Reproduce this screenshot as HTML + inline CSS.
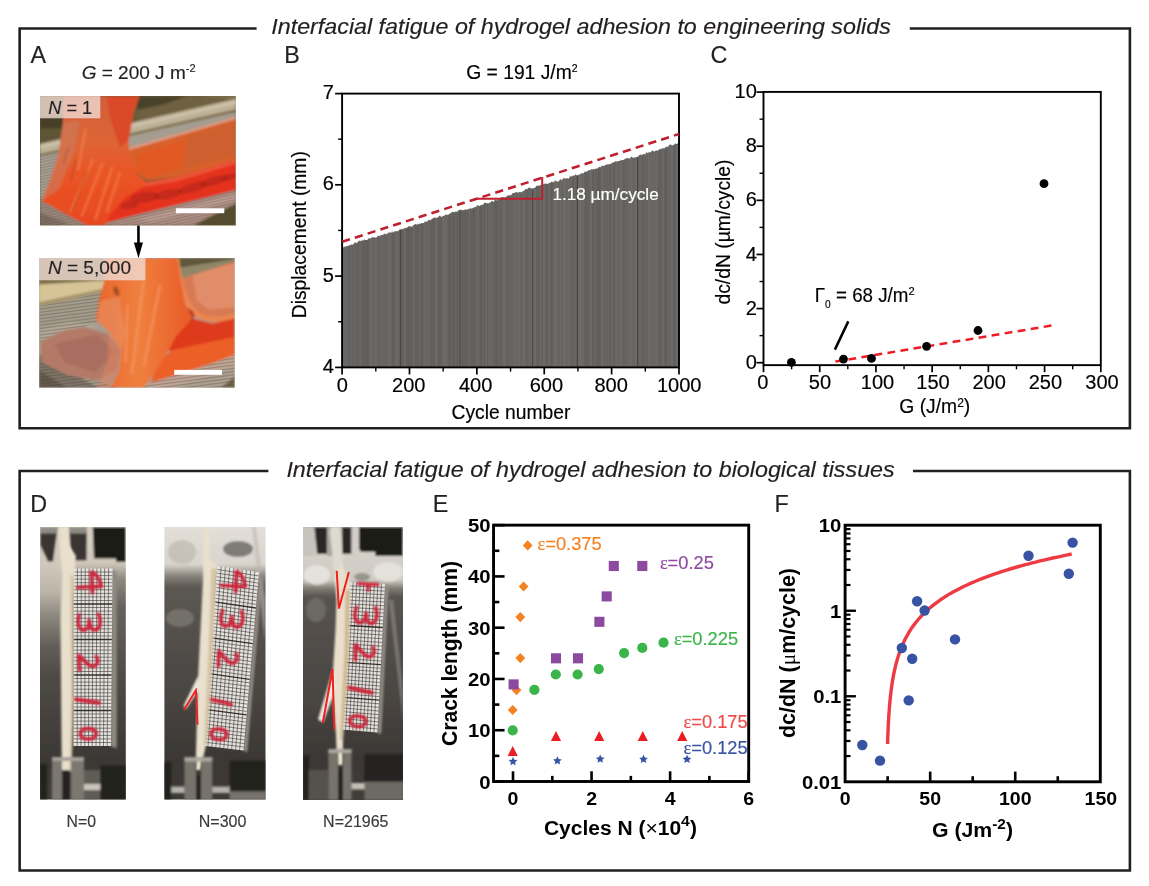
<!DOCTYPE html>
<html><head><meta charset="utf-8"><title>Interfacial fatigue of hydrogel adhesion</title>
<style>
html,body{margin:0;padding:0;background:#fff;}
body{width:1149px;height:886px;overflow:hidden;font-family:"Liberation Sans",sans-serif;}
svg{display:block;font-family:"Liberation Sans",sans-serif;will-change:transform;}
</style></head><body>
<svg width="1149" height="886" viewBox="0 0 1149 886">
<defs>
<filter id="bl5" x="-5%" y="-5%" width="110%" height="110%"><feGaussianBlur stdDeviation="6"/></filter>
<filter id="bl1" x="-5%" y="-5%" width="110%" height="110%"><feGaussianBlur stdDeviation="0.9"/></filter>
<filter id="bl2" x="-5%" y="-5%" width="110%" height="110%"><feGaussianBlur stdDeviation="2"/></filter>
<filter id="bl0" x="-5%" y="-5%" width="110%" height="110%"><feGaussianBlur stdDeviation="0.5"/></filter>
</defs>
<rect width="1149" height="886" fill="#fff"/>
<path d="M256.6 28.45 H19.65 V428.2 H1129.9 V28.45 H909.8" fill="none" stroke="#231f20" stroke-width="2.6"/>
<text x="271.3" y="33.7" font-size="22.8" fill="#231f20" stroke="#231f20" stroke-width="0.16" font-style="italic" textLength="619.5" lengthAdjust="spacingAndGlyphs" >Interfacial fatigue of hydrogel adhesion to engineering solids</text>
<path d="M268.4 471.05 H19.65 V870.5 H1129.9 V471.05 H913" fill="none" stroke="#231f20" stroke-width="2.6"/>
<text x="286.4" y="477.3" font-size="22.8" fill="#231f20" stroke="#231f20" stroke-width="0.16" font-style="italic" textLength="608.3" lengthAdjust="spacingAndGlyphs" >Interfacial fatigue of hydrogel adhesion to biological tissues</text>
<text x="30.6" y="62.8" font-size="23.3" fill="#231f20" stroke="#231f20" stroke-width="0.16" >A</text>
<text x="284.3" y="62.8" font-size="23.3" fill="#231f20" stroke="#231f20" stroke-width="0.16" >B</text>
<text x="710.6" y="62.8" font-size="23.3" fill="#231f20" stroke="#231f20" stroke-width="0.16" >C</text>
<text x="30.3" y="511.9" font-size="23.3" fill="#231f20" stroke="#231f20" stroke-width="0.16" >D</text>
<text x="432.7" y="511.9" font-size="23.3" fill="#231f20" stroke="#231f20" stroke-width="0.16" >E</text>
<text x="774.6" y="511.9" font-size="23.3" fill="#231f20" stroke="#231f20" stroke-width="0.16" >F</text>
<text x="81.7" y="78.9" font-size="19" fill="#231f20" stroke="#231f20" stroke-width="0.16" ><tspan font-style="italic">G</tspan> = 200 J m<tspan font-size="11" dy="-6.5">-2</tspan></text>
<clipPath id="cA1"><rect x="40" y="96.1" width="195.8" height="129.5"/></clipPath>
<g clip-path="url(#cA1)"><g transform="translate(30 90) scale(0.19146)" filter="url(#bl5)">
<rect x="20" y="0" width="1100" height="760" fill="#675b39"/>
<polygon points="560,32 1075,32 1075,50 560,170" fill="#6e6140" />
<polygon points="560,32 820,32 700,75 560,105" fill="#4a4229" />
<polygon points="880,32 1075,32 1075,45" fill="#8a7c56" />
<polygon points="52,140 190,140 175,260 52,285" fill="#463f25" />
<polygon points="52,200 180,200 172,262 52,285" fill="#5f5536" />
<polygon points="52,281 1075,46 1075,100 52,334" fill="#bdb197" />
<polygon points="52,292 1075,58 1075,72 52,306" fill="#cfc5ac" />
<polygon points="52,334 1075,100 1075,116 52,346" fill="#877858" />
<polygon points="52,346 1075,116 1075,150 520,314 52,600" fill="#a59d90" />
<polygon points="52,560 260,640 420,708 52,708" fill="#98857a" />
<polygon points="52,640 200,700 52,708" fill="#7d6c62" />
<polygon points="515,301 1075,140 1075,368 770,455 610,472 545,425 512,365" fill="#d9602c" />
<polygon points="515,301 1075,140 1075,152 518,314" fill="#dba08a" />
<polygon points="560,340 820,262 800,400 620,460 548,420" fill="#e6561f" opacity="0.7"/>
<polygon points="820,240 1075,165 1075,340 800,410" fill="#c8622e" opacity="0.75"/>
<polygon points="420,610 540,492 770,455 1075,365 1075,522 560,652 395,695" fill="#e5321c" />
<polygon points="540,492 770,455 1075,365 1075,385 772,476 560,512" fill="#ee5a40" opacity="0.8"/>
<ellipse cx="600" cy="560" rx="75" ry="28" fill="#9b2417" opacity="0.42" transform="rotate(-5 600 560)"/>
<ellipse cx="720" cy="545" rx="75" ry="24" fill="#9b2417" opacity="0.42" transform="rotate(-12 720 545)"/>
<ellipse cx="850" cy="510" rx="80" ry="24" fill="#9b2417" opacity="0.42" transform="rotate(-17 850 510)"/>
<ellipse cx="960" cy="475" rx="75" ry="22" fill="#9b2417" opacity="0.42" transform="rotate(-17 960 475)"/>
<ellipse cx="1040" cy="455" rx="45" ry="18" fill="#9b2417" opacity="0.42" transform="rotate(-17 1040 455)"/>
<ellipse cx="520" cy="600" rx="50" ry="22" fill="#9b2417" opacity="0.42" transform="rotate(-10 520 600)"/>
<polygon points="395,708 395,695 560,652 1075,522 1075,610 900,708" fill="#aa8c82" />
<polygon points="560,672 1075,545 1075,572 640,690" fill="#bfa398" opacity="0.7"/>
<polygon points="850,708 1075,593 1075,708" fill="#544b2e" />
<linearGradient id="gA1s" x1="0" y1="0" x2="0" y2="1"><stop offset="0" stop-color="#d2603a"/><stop offset="0.35" stop-color="#df6436"/><stop offset="0.6" stop-color="#ea5526"/><stop offset="1" stop-color="#e8471f"/></linearGradient>
<polygon points="178,32 572,32 540,120 516,260 520,360 555,435 620,490 500,560 420,650 390,708 300,708 190,650 62,580 105,470 150,330 172,170" fill="url(#gA1s)" />
<polygon points="172,170 260,160 230,330 150,520 62,580 105,470 150,330" fill="#c98062" opacity="0.55"/>
<line x1="330" y1="360" x2="210" y2="640" stroke="#f5854a" stroke-width="14" opacity="0.55"/>
<line x1="380" y1="380" x2="270" y2="660" stroke="#f5854a" stroke-width="14" opacity="0.55"/>
<line x1="430" y1="400" x2="340" y2="680" stroke="#f5854a" stroke-width="14" opacity="0.55"/>
<line x1="290" y1="200" x2="250" y2="420" stroke="#f5854a" stroke-width="14" opacity="0.55"/>
<line x1="470" y1="430" x2="400" y2="640" stroke="#f5854a" stroke-width="14" opacity="0.55"/>
<line x1="240" y1="360" x2="215" y2="470" stroke="#8c3a22" stroke-width="7" opacity="0.45"/>
<line x1="200" y1="300" x2="175" y2="380" stroke="#8c3a22" stroke-width="7" opacity="0.45"/>
<line x1="300" y1="420" x2="220" y2="640" stroke="#8c3a22" stroke-width="7" opacity="0.45"/>
<polygon points="400,32 572,32 540,120 516,260 470,300 420,150" fill="#dc3f24" opacity="0.7"/>
</g>
<g transform="translate(30 90) scale(0.19146)" filter="url(#bl2)">
<clipPath id="mA1"><polygon points="52,346 150,325 105,470 62,580 190,650 300,708 52,708"/><polygon points="395,708 395,695 560,652 1075,522 1075,593 850,708"/></clipPath>
<g clip-path="url(#mA1)" stroke="#4a4438" stroke-width="6" opacity="0.2">
<line x1="0" y1="300" x2="1100" y2="58"/>
<line x1="0" y1="315" x2="1100" y2="73"/>
<line x1="0" y1="330" x2="1100" y2="88"/>
<line x1="0" y1="345" x2="1100" y2="103"/>
<line x1="0" y1="360" x2="1100" y2="118"/>
<line x1="0" y1="375" x2="1100" y2="133"/>
<line x1="0" y1="390" x2="1100" y2="148"/>
<line x1="0" y1="405" x2="1100" y2="163"/>
<line x1="0" y1="420" x2="1100" y2="178"/>
<line x1="0" y1="435" x2="1100" y2="193"/>
<line x1="0" y1="450" x2="1100" y2="208"/>
<line x1="0" y1="465" x2="1100" y2="223"/>
<line x1="0" y1="480" x2="1100" y2="238"/>
<line x1="0" y1="495" x2="1100" y2="253"/>
<line x1="0" y1="510" x2="1100" y2="268"/>
<line x1="0" y1="525" x2="1100" y2="283"/>
<line x1="0" y1="540" x2="1100" y2="298"/>
<line x1="0" y1="555" x2="1100" y2="313"/>
<line x1="0" y1="570" x2="1100" y2="328"/>
<line x1="0" y1="585" x2="1100" y2="343"/>
<line x1="0" y1="600" x2="1100" y2="358"/>
<line x1="0" y1="615" x2="1100" y2="373"/>
<line x1="0" y1="630" x2="1100" y2="388"/>
<line x1="0" y1="645" x2="1100" y2="403"/>
<line x1="0" y1="660" x2="1100" y2="418"/>
<line x1="0" y1="675" x2="1100" y2="433"/>
<line x1="0" y1="690" x2="1100" y2="448"/>
<line x1="0" y1="705" x2="1100" y2="463"/>
<line x1="0" y1="720" x2="1100" y2="478"/>
<line x1="0" y1="735" x2="1100" y2="493"/>
<line x1="0" y1="750" x2="1100" y2="508"/>
<line x1="0" y1="765" x2="1100" y2="523"/>
<line x1="0" y1="780" x2="1100" y2="538"/>
<line x1="0" y1="795" x2="1100" y2="553"/>
<line x1="0" y1="810" x2="1100" y2="568"/>
<line x1="0" y1="825" x2="1100" y2="583"/>
<line x1="0" y1="840" x2="1100" y2="598"/>
<line x1="0" y1="855" x2="1100" y2="613"/>
<line x1="0" y1="870" x2="1100" y2="628"/>
<line x1="0" y1="885" x2="1100" y2="643"/>
<line x1="0" y1="900" x2="1100" y2="658"/>
<line x1="0" y1="915" x2="1100" y2="673"/>
<line x1="0" y1="930" x2="1100" y2="688"/>
<line x1="0" y1="945" x2="1100" y2="703"/>
<line x1="0" y1="960" x2="1100" y2="718"/>
<line x1="0" y1="975" x2="1100" y2="733"/>
<line x1="0" y1="990" x2="1100" y2="748"/>
</g>
</g></g>
<clipPath id="cA2"><rect x="39.1" y="258" width="195.7" height="129.8"/></clipPath>
<g clip-path="url(#cA2)"><g transform="translate(30 220) scale(0.20313)" filter="url(#bl5)">
<rect x="20" y="160" width="1020" height="700" fill="#a59e8f"/>
<polygon points="45,187 420,187 400,300 45,335" fill="#7d7048" />
<polygon points="45,318 380,296 362,338 45,405" fill="#d6c497" />
<polygon points="45,405 362,338 355,358 45,425" fill="#a8946a" />
<polygon points="45,425 355,358 340,520 45,600" fill="#a39c8c" />
<polygon points="45,540 200,500 340,520 45,620" fill="#b0a798" />
<polygon points="45,660 200,750 340,826 45,826" fill="#7d7266" />
<polygon points="45,740 180,826 45,826" fill="#62584c" />
<polygon points="50,600 160,545 265,525 380,560 445,640 425,740 330,792 180,762 60,702" fill="#b47a67" />
<polygon points="120,610 330,565 420,650 320,750 170,700" fill="#a66c5c" opacity="0.8"/>
<polygon points="715,187 1008,187 1008,490 900,505 805,472 762,400 742,300" fill="#d87a52" />
<polygon points="800,260 1008,215 1008,430 880,440 820,395" fill="#e4906e" opacity="0.85"/>
<polygon points="722,187 1008,187 1008,204 735,292" fill="#8f8768" />
<polygon points="722,187 1008,187 1008,192 730,235" fill="#5e563a" />
<path d="M722 187 C735 330 770 430 830 470 C900 500 960 490 1008 470" fill="none" stroke="#ee8650" stroke-width="26" opacity="0.9"/>
<polygon points="630,425 800,485 900,510 1008,485 1008,600 850,645 700,650 600,600 600,470" fill="#de3a1e" />
<ellipse cx="730" cy="470" rx="80" ry="45" fill="#b82a16" opacity="0.75"/>
<polygon points="630,700 700,640 1008,575 1008,665 900,705 590,810" fill="#ec5e28" />
<polygon points="550,826 600,800 900,705 1008,665 1008,826" fill="#c0a595" />
<polygon points="700,826 1008,720 1008,826" fill="#ada091" />
<polygon points="940,826 1008,770 1008,826" fill="#6e6444" />
<linearGradient id="gA2s" x1="0" y1="0" x2="1" y2="0"><stop offset="0" stop-color="#e8652c"/><stop offset="0.45" stop-color="#f0803f"/><stop offset="1" stop-color="#e85a26"/></linearGradient>
<polygon points="372,187 722,187 742,300 762,410 800,485 720,570 650,700 560,826 400,826 440,740 450,640 390,550 322,490 337,400 366,300" fill="url(#gA2s)" />
<polygon points="337,400 440,380 470,560 450,640 390,550 322,490" fill="#e8956a" opacity="0.55"/>
<polygon points="390,550 450,640 440,740 400,826 330,826 380,700" fill="#d88060" opacity="0.6"/>
<line x1="560" y1="300" x2="500" y2="760" stroke="#f6a070" stroke-width="14" opacity="0.5"/>
<line x1="640" y1="320" x2="560" y2="720" stroke="#f6a070" stroke-width="14" opacity="0.5"/>
<line x1="480" y1="420" x2="470" y2="700" stroke="#f6a070" stroke-width="14" opacity="0.5"/>
<ellipse cx="425" cy="350" rx="14" ry="26" fill="#7a3a20" opacity="0.6" transform="rotate(-20 425 350)"/>
</g>
<g transform="translate(30 220) scale(0.20313)" filter="url(#bl2)">
<clipPath id="mA2"><polygon points="45,425 355,358 330,500 265,525 160,545 50,600 45,600"/><polygon points="45,700 60,702 180,762 330,792 427,826 45,826"/><polygon points="550,826 600,800 900,705 1008,665 1008,826"/></clipPath>
<g clip-path="url(#mA2)" stroke="#4a4438" stroke-width="6" opacity="0.3">
<line x1="0" y1="300" x2="1100" y2="157"/>
<line x1="0" y1="316" x2="1100" y2="173"/>
<line x1="0" y1="332" x2="1100" y2="189"/>
<line x1="0" y1="348" x2="1100" y2="205"/>
<line x1="0" y1="364" x2="1100" y2="221"/>
<line x1="0" y1="380" x2="1100" y2="237"/>
<line x1="0" y1="396" x2="1100" y2="253"/>
<line x1="0" y1="412" x2="1100" y2="269"/>
<line x1="0" y1="428" x2="1100" y2="285"/>
<line x1="0" y1="444" x2="1100" y2="301"/>
<line x1="0" y1="460" x2="1100" y2="317"/>
<line x1="0" y1="476" x2="1100" y2="333"/>
<line x1="0" y1="492" x2="1100" y2="349"/>
<line x1="0" y1="508" x2="1100" y2="365"/>
<line x1="0" y1="524" x2="1100" y2="381"/>
<line x1="0" y1="540" x2="1100" y2="397"/>
<line x1="0" y1="556" x2="1100" y2="413"/>
<line x1="0" y1="572" x2="1100" y2="429"/>
<line x1="0" y1="588" x2="1100" y2="445"/>
<line x1="0" y1="604" x2="1100" y2="461"/>
<line x1="0" y1="620" x2="1100" y2="477"/>
<line x1="0" y1="636" x2="1100" y2="493"/>
<line x1="0" y1="652" x2="1100" y2="509"/>
<line x1="0" y1="668" x2="1100" y2="525"/>
<line x1="0" y1="684" x2="1100" y2="541"/>
<line x1="0" y1="700" x2="1100" y2="557"/>
<line x1="0" y1="716" x2="1100" y2="573"/>
<line x1="0" y1="732" x2="1100" y2="589"/>
<line x1="0" y1="748" x2="1100" y2="605"/>
<line x1="0" y1="764" x2="1100" y2="621"/>
<line x1="0" y1="780" x2="1100" y2="637"/>
<line x1="0" y1="796" x2="1100" y2="653"/>
<line x1="0" y1="812" x2="1100" y2="669"/>
<line x1="0" y1="828" x2="1100" y2="685"/>
<line x1="0" y1="844" x2="1100" y2="701"/>
<line x1="0" y1="860" x2="1100" y2="717"/>
<line x1="0" y1="876" x2="1100" y2="733"/>
<line x1="0" y1="892" x2="1100" y2="749"/>
<line x1="0" y1="908" x2="1100" y2="765"/>
<line x1="0" y1="924" x2="1100" y2="781"/>
<line x1="0" y1="940" x2="1100" y2="797"/>
<line x1="0" y1="956" x2="1100" y2="813"/>
<line x1="0" y1="972" x2="1100" y2="829"/>
<line x1="0" y1="988" x2="1100" y2="845"/>
</g>
</g></g>
<rect x="40" y="96.1" width="60.3" height="22.2" fill="#f0dcd6" opacity="0.78"/>
<text x="48.2" y="113.9" font-size="19" fill="#231f20" stroke="#231f20" stroke-width="0.16" textLength="44" lengthAdjust="spacingAndGlyphs" ><tspan font-style="italic">N</tspan> = 1</text>
<rect x="39.1" y="258" width="106.3" height="22.3" fill="#f0dcd6" opacity="0.78"/>
<text x="47.9" y="274.4" font-size="19" fill="#231f20" stroke="#231f20" stroke-width="0.16" textLength="83.1" lengthAdjust="spacingAndGlyphs" ><tspan font-style="italic">N</tspan> = 5,000</text>
<rect x="175.9" y="208.3" width="48.4" height="4.9" fill="#fff" />
<rect x="174.2" y="369.9" width="47.8" height="4.9" fill="#fff" />
<line x1="138.45" y1="225.6" x2="138.45" y2="246" stroke="#000" stroke-width="2.6" />
<path d="M133.9 242.6 L143 242.6 L138.45 258.2 Z" fill="#000"/>
<path d="M342.1 367.4 L342.1 247.7 L343.1 247.8 L344.1 246.3 L345.1 247.2 L346.1 245.9 L347.1 245.9 L348.1 246.2 L349.1 244.9 L350.1 245.6 L351.1 244.3 L352.1 244.8 L353.1 244.4 L354.1 243.3 L355.1 242.1 L356.1 243.3 L357.1 242.8 L358.1 241.6 L359.1 240.6 L360.1 241.0 L361.1 241.1 L362.1 239.5 L363.1 241.3 L364.1 239.2 L365.1 240.1 L366.1 240.1 L367.1 239.9 L368.1 239.2 L369.1 237.8 L370.1 238.9 L371.1 237.7 L372.1 237.3 L373.1 237.6 L374.1 237.0 L375.1 237.8 L376.1 237.5 L377.1 236.9 L378.1 235.6 L379.1 235.9 L380.1 235.8 L381.1 235.0 L382.1 235.0 L383.1 235.1 L384.1 233.7 L385.1 233.7 L386.1 234.4 L387.1 233.4 L388.1 233.2 L389.1 232.2 L390.1 232.2 L391.1 232.9 L392.1 231.1 L393.1 232.7 L394.1 231.8 L395.1 230.8 L396.1 231.8 L397.1 230.8 L398.1 231.5 L399.1 229.8 L400.1 229.3 L401.1 229.4 L402.1 228.5 L403.1 229.4 L404.1 228.2 L405.1 228.1 L406.1 227.8 L407.1 227.8 L408.1 226.6 L409.1 226.1 L410.1 226.8 L411.1 226.0 L412.1 227.0 L413.1 225.3 L414.1 225.1 L415.1 224.0 L416.1 224.0 L417.1 224.8 L418.1 224.2 L419.1 223.3 L420.1 224.3 L421.1 223.0 L422.1 223.3 L423.1 223.1 L424.1 222.9 L425.1 221.0 L426.1 222.0 L427.1 221.4 L428.1 220.7 L429.1 219.3 L430.1 220.7 L431.1 219.6 L432.1 219.0 L433.1 217.9 L434.1 217.7 L435.1 217.3 L436.1 218.2 L437.1 217.6 L438.1 217.4 L439.1 215.9 L440.1 215.4 L441.1 216.9 L442.1 216.5 L443.1 216.1 L444.1 215.7 L445.1 214.9 L446.1 214.3 L447.1 214.8 L448.1 215.0 L449.1 213.8 L450.1 213.6 L451.1 212.9 L452.1 211.8 L453.1 212.1 L454.1 212.2 L455.1 211.7 L456.1 211.3 L457.1 212.3 L458.1 210.2 L459.1 210.2 L460.1 209.7 L461.1 209.6 L462.1 210.2 L463.1 210.0 L464.1 210.3 L465.1 208.9 L466.1 209.9 L467.1 209.6 L468.1 209.0 L469.1 208.9 L470.1 208.2 L471.1 208.6 L472.1 208.4 L473.1 207.8 L474.1 207.6 L475.1 206.8 L476.1 207.2 L477.1 205.1 L478.1 205.4 L479.1 206.1 L480.1 205.6 L481.1 205.1 L482.1 204.7 L483.1 205.0 L484.1 203.1 L485.1 202.4 L486.1 203.3 L487.1 202.9 L488.1 203.5 L489.1 203.1 L490.1 202.3 L491.1 202.1 L492.1 200.6 L493.1 201.7 L494.1 201.7 L495.1 199.3 L496.1 199.9 L497.1 200.4 L498.1 199.1 L499.1 199.9 L500.1 198.5 L501.1 197.2 L502.1 197.1 L503.1 197.1 L504.1 197.7 L505.1 197.1 L506.1 197.2 L507.1 195.5 L508.1 195.7 L509.1 194.8 L510.1 195.4 L511.0 195.3 L512.0 193.7 L513.0 192.9 L514.0 192.9 L515.0 192.6 L516.0 192.3 L517.0 192.1 L518.0 192.9 L519.0 191.9 L520.0 191.9 L521.0 192.3 L522.0 192.0 L523.0 191.1 L524.0 190.9 L525.0 189.6 L526.0 188.7 L527.0 189.5 L528.0 188.1 L529.0 187.7 L530.0 187.5 L531.0 188.5 L532.0 188.5 L533.0 188.2 L534.0 188.0 L535.0 187.7 L536.0 186.5 L537.0 185.6 L538.0 185.5 L539.0 186.0 L540.0 185.3 L541.0 184.7 L542.0 186.0 L543.0 184.5 L544.0 183.7 L545.0 183.7 L546.0 183.5 L547.0 183.8 L548.0 184.2 L549.0 182.6 L550.0 183.3 L551.0 182.0 L552.0 181.4 L553.0 182.4 L554.0 182.1 L555.0 180.6 L556.0 180.8 L557.0 181.8 L558.0 181.6 L559.0 181.2 L560.0 179.3 L561.0 179.2 L562.0 180.4 L563.0 178.6 L564.0 178.0 L565.0 178.4 L566.0 178.7 L567.0 178.0 L568.0 178.6 L569.0 178.5 L570.0 176.1 L571.0 176.5 L572.0 176.4 L573.0 175.2 L574.0 176.0 L575.0 174.7 L576.0 174.4 L577.0 175.5 L578.0 175.0 L579.0 174.6 L580.0 174.4 L581.0 173.3 L582.0 173.6 L583.0 172.9 L584.0 173.2 L585.0 171.1 L586.0 172.0 L587.0 171.4 L588.0 170.8 L589.0 169.8 L590.0 170.5 L591.0 169.0 L592.0 169.6 L593.0 169.2 L594.0 168.8 L595.0 169.6 L596.0 168.3 L597.0 168.6 L598.0 168.6 L599.0 166.5 L600.0 167.6 L601.0 166.6 L602.0 165.7 L603.0 165.7 L604.0 165.9 L605.0 165.2 L606.0 164.8 L607.0 164.0 L608.0 165.1 L609.0 163.8 L610.0 164.2 L611.0 163.9 L612.0 162.5 L613.0 162.8 L614.0 162.3 L615.0 161.6 L616.0 161.0 L617.0 161.8 L618.0 161.1 L619.0 161.1 L620.0 160.8 L621.0 160.1 L622.0 160.3 L623.0 159.9 L624.0 159.8 L625.0 158.5 L626.0 158.7 L627.0 158.1 L628.0 157.7 L629.0 158.9 L630.0 158.0 L631.0 156.9 L632.0 156.8 L633.0 158.1 L634.0 157.8 L635.0 156.9 L636.0 157.4 L637.0 156.8 L638.0 156.8 L639.0 155.3 L640.0 154.7 L641.0 154.2 L642.0 155.5 L643.0 154.0 L644.0 153.8 L645.0 154.7 L646.0 152.7 L647.0 152.2 L648.0 153.6 L649.0 151.7 L650.0 152.6 L651.0 152.1 L652.0 150.6 L653.0 150.7 L654.0 151.8 L655.0 150.9 L656.0 150.4 L657.0 150.4 L658.0 150.4 L659.0 149.8 L660.0 148.5 L661.0 149.7 L662.0 148.2 L663.0 148.1 L664.0 148.7 L665.0 147.7 L666.0 146.7 L667.0 146.6 L668.0 147.2 L669.0 144.8 L670.0 144.9 L671.0 144.2 L672.0 145.7 L673.0 145.0 L674.0 145.1 L675.0 143.2 L676.0 143.9 L677.0 143.9 L678.0 142.9 L679.0 141.5 L679.0 367.4 Z" fill="#676563"/>
<line x1="343.1" y1="248.8" x2="343.1" y2="367.4" stroke="#777572" stroke-width="0.6"/>
<line x1="346.1" y1="246.9" x2="346.1" y2="367.4" stroke="#777572" stroke-width="0.6"/>
<line x1="349.1" y1="245.9" x2="349.1" y2="367.4" stroke="#5a5856" stroke-width="0.6"/>
<line x1="353.1" y1="245.4" x2="353.1" y2="367.4" stroke="#5a5856" stroke-width="0.6"/>
<line x1="354.1" y1="244.3" x2="354.1" y2="367.4" stroke="#777572" stroke-width="0.6"/>
<line x1="355.1" y1="243.1" x2="355.1" y2="367.4" stroke="#5a5856" stroke-width="0.6"/>
<line x1="358.1" y1="242.6" x2="358.1" y2="367.4" stroke="#5a5856" stroke-width="0.6"/>
<line x1="363.1" y1="242.3" x2="363.1" y2="367.4" stroke="#5a5856" stroke-width="0.6"/>
<line x1="364.1" y1="240.2" x2="364.1" y2="367.4" stroke="#5a5856" stroke-width="0.6"/>
<line x1="366.1" y1="241.1" x2="366.1" y2="367.4" stroke="#5a5856" stroke-width="0.6"/>
<line x1="367.1" y1="240.9" x2="367.1" y2="367.4" stroke="#5a5856" stroke-width="0.6"/>
<line x1="368.1" y1="240.2" x2="368.1" y2="367.4" stroke="#5a5856" stroke-width="0.6"/>
<line x1="369.1" y1="238.8" x2="369.1" y2="367.4" stroke="#5a5856" stroke-width="0.6"/>
<line x1="370.1" y1="239.9" x2="370.1" y2="367.4" stroke="#777572" stroke-width="0.6"/>
<line x1="371.1" y1="238.7" x2="371.1" y2="367.4" stroke="#777572" stroke-width="0.6"/>
<line x1="375.1" y1="238.8" x2="375.1" y2="367.4" stroke="#777572" stroke-width="0.6"/>
<line x1="377.1" y1="237.9" x2="377.1" y2="367.4" stroke="#777572" stroke-width="0.6"/>
<line x1="378.1" y1="236.6" x2="378.1" y2="367.4" stroke="#5a5856" stroke-width="0.6"/>
<line x1="383.1" y1="236.1" x2="383.1" y2="367.4" stroke="#777572" stroke-width="0.6"/>
<line x1="384.1" y1="234.7" x2="384.1" y2="367.4" stroke="#5a5856" stroke-width="0.6"/>
<line x1="385.1" y1="234.7" x2="385.1" y2="367.4" stroke="#777572" stroke-width="0.6"/>
<line x1="386.1" y1="235.4" x2="386.1" y2="367.4" stroke="#5a5856" stroke-width="0.6"/>
<line x1="388.1" y1="234.2" x2="388.1" y2="367.4" stroke="#777572" stroke-width="0.6"/>
<line x1="390.1" y1="233.2" x2="390.1" y2="367.4" stroke="#777572" stroke-width="0.6"/>
<line x1="393.1" y1="233.7" x2="393.1" y2="367.4" stroke="#5a5856" stroke-width="0.6"/>
<line x1="394.1" y1="232.8" x2="394.1" y2="367.4" stroke="#5a5856" stroke-width="0.6"/>
<line x1="396.1" y1="232.8" x2="396.1" y2="367.4" stroke="#777572" stroke-width="0.6"/>
<line x1="398.1" y1="232.5" x2="398.1" y2="367.4" stroke="#777572" stroke-width="0.6"/>
<line x1="399.1" y1="230.8" x2="399.1" y2="367.4" stroke="#5a5856" stroke-width="0.6"/>
<line x1="402.1" y1="229.5" x2="402.1" y2="367.4" stroke="#5a5856" stroke-width="0.6"/>
<line x1="403.1" y1="230.4" x2="403.1" y2="367.4" stroke="#5a5856" stroke-width="0.6"/>
<line x1="404.1" y1="229.2" x2="404.1" y2="367.4" stroke="#777572" stroke-width="0.6"/>
<line x1="407.1" y1="228.8" x2="407.1" y2="367.4" stroke="#5a5856" stroke-width="0.6"/>
<line x1="408.1" y1="227.6" x2="408.1" y2="367.4" stroke="#5a5856" stroke-width="0.6"/>
<line x1="409.1" y1="227.1" x2="409.1" y2="367.4" stroke="#5a5856" stroke-width="0.6"/>
<line x1="410.1" y1="227.8" x2="410.1" y2="367.4" stroke="#5a5856" stroke-width="0.6"/>
<line x1="412.1" y1="228.0" x2="412.1" y2="367.4" stroke="#5a5856" stroke-width="0.6"/>
<line x1="414.1" y1="226.1" x2="414.1" y2="367.4" stroke="#777572" stroke-width="0.6"/>
<line x1="415.1" y1="225.0" x2="415.1" y2="367.4" stroke="#5a5856" stroke-width="0.6"/>
<line x1="417.1" y1="225.8" x2="417.1" y2="367.4" stroke="#5a5856" stroke-width="0.6"/>
<line x1="419.1" y1="224.3" x2="419.1" y2="367.4" stroke="#5a5856" stroke-width="0.6"/>
<line x1="420.1" y1="225.3" x2="420.1" y2="367.4" stroke="#777572" stroke-width="0.6"/>
<line x1="421.1" y1="224.0" x2="421.1" y2="367.4" stroke="#5a5856" stroke-width="0.6"/>
<line x1="422.1" y1="224.3" x2="422.1" y2="367.4" stroke="#5a5856" stroke-width="0.6"/>
<line x1="425.1" y1="222.0" x2="425.1" y2="367.4" stroke="#777572" stroke-width="0.6"/>
<line x1="427.1" y1="222.4" x2="427.1" y2="367.4" stroke="#5a5856" stroke-width="0.6"/>
<line x1="428.1" y1="221.7" x2="428.1" y2="367.4" stroke="#777572" stroke-width="0.6"/>
<line x1="431.1" y1="220.6" x2="431.1" y2="367.4" stroke="#5a5856" stroke-width="0.6"/>
<line x1="433.1" y1="218.9" x2="433.1" y2="367.4" stroke="#5a5856" stroke-width="0.6"/>
<line x1="434.1" y1="218.7" x2="434.1" y2="367.4" stroke="#5a5856" stroke-width="0.6"/>
<line x1="436.1" y1="219.2" x2="436.1" y2="367.4" stroke="#777572" stroke-width="0.6"/>
<line x1="437.1" y1="218.6" x2="437.1" y2="367.4" stroke="#777572" stroke-width="0.6"/>
<line x1="438.1" y1="218.4" x2="438.1" y2="367.4" stroke="#5a5856" stroke-width="0.6"/>
<line x1="439.1" y1="216.9" x2="439.1" y2="367.4" stroke="#5a5856" stroke-width="0.6"/>
<line x1="441.1" y1="217.9" x2="441.1" y2="367.4" stroke="#5a5856" stroke-width="0.6"/>
<line x1="443.1" y1="217.1" x2="443.1" y2="367.4" stroke="#777572" stroke-width="0.6"/>
<line x1="444.1" y1="216.7" x2="444.1" y2="367.4" stroke="#777572" stroke-width="0.6"/>
<line x1="446.1" y1="215.3" x2="446.1" y2="367.4" stroke="#777572" stroke-width="0.6"/>
<line x1="449.1" y1="214.8" x2="449.1" y2="367.4" stroke="#5a5856" stroke-width="0.6"/>
<line x1="450.1" y1="214.6" x2="450.1" y2="367.4" stroke="#5a5856" stroke-width="0.6"/>
<line x1="453.1" y1="213.1" x2="453.1" y2="367.4" stroke="#5a5856" stroke-width="0.6"/>
<line x1="454.1" y1="213.2" x2="454.1" y2="367.4" stroke="#5a5856" stroke-width="0.6"/>
<line x1="457.1" y1="213.3" x2="457.1" y2="367.4" stroke="#5a5856" stroke-width="0.6"/>
<line x1="461.1" y1="210.6" x2="461.1" y2="367.4" stroke="#777572" stroke-width="0.6"/>
<line x1="462.1" y1="211.2" x2="462.1" y2="367.4" stroke="#5a5856" stroke-width="0.6"/>
<line x1="463.1" y1="211.0" x2="463.1" y2="367.4" stroke="#5a5856" stroke-width="0.6"/>
<line x1="465.1" y1="209.9" x2="465.1" y2="367.4" stroke="#5a5856" stroke-width="0.6"/>
<line x1="467.1" y1="210.6" x2="467.1" y2="367.4" stroke="#5a5856" stroke-width="0.6"/>
<line x1="470.1" y1="209.2" x2="470.1" y2="367.4" stroke="#777572" stroke-width="0.6"/>
<line x1="471.1" y1="209.6" x2="471.1" y2="367.4" stroke="#5a5856" stroke-width="0.6"/>
<line x1="473.1" y1="208.8" x2="473.1" y2="367.4" stroke="#5a5856" stroke-width="0.6"/>
<line x1="474.1" y1="208.6" x2="474.1" y2="367.4" stroke="#5a5856" stroke-width="0.6"/>
<line x1="478.1" y1="206.4" x2="478.1" y2="367.4" stroke="#777572" stroke-width="0.6"/>
<line x1="480.1" y1="206.6" x2="480.1" y2="367.4" stroke="#5a5856" stroke-width="0.6"/>
<line x1="481.1" y1="206.1" x2="481.1" y2="367.4" stroke="#5a5856" stroke-width="0.6"/>
<line x1="482.1" y1="205.7" x2="482.1" y2="367.4" stroke="#5a5856" stroke-width="0.6"/>
<line x1="483.1" y1="206.0" x2="483.1" y2="367.4" stroke="#777572" stroke-width="0.6"/>
<line x1="484.1" y1="204.1" x2="484.1" y2="367.4" stroke="#5a5856" stroke-width="0.6"/>
<line x1="485.1" y1="203.4" x2="485.1" y2="367.4" stroke="#5a5856" stroke-width="0.6"/>
<line x1="486.1" y1="204.3" x2="486.1" y2="367.4" stroke="#777572" stroke-width="0.6"/>
<line x1="488.1" y1="204.5" x2="488.1" y2="367.4" stroke="#5a5856" stroke-width="0.6"/>
<line x1="489.1" y1="204.1" x2="489.1" y2="367.4" stroke="#777572" stroke-width="0.6"/>
<line x1="495.1" y1="200.3" x2="495.1" y2="367.4" stroke="#5a5856" stroke-width="0.6"/>
<line x1="496.1" y1="200.9" x2="496.1" y2="367.4" stroke="#5a5856" stroke-width="0.6"/>
<line x1="497.1" y1="201.4" x2="497.1" y2="367.4" stroke="#5a5856" stroke-width="0.6"/>
<line x1="501.1" y1="198.2" x2="501.1" y2="367.4" stroke="#5a5856" stroke-width="0.6"/>
<line x1="503.1" y1="198.1" x2="503.1" y2="367.4" stroke="#777572" stroke-width="0.6"/>
<line x1="505.1" y1="198.1" x2="505.1" y2="367.4" stroke="#777572" stroke-width="0.6"/>
<line x1="507.1" y1="196.5" x2="507.1" y2="367.4" stroke="#5a5856" stroke-width="0.6"/>
<line x1="515.0" y1="193.6" x2="515.0" y2="367.4" stroke="#777572" stroke-width="0.6"/>
<line x1="519.0" y1="192.9" x2="519.0" y2="367.4" stroke="#777572" stroke-width="0.6"/>
<line x1="524.0" y1="191.9" x2="524.0" y2="367.4" stroke="#777572" stroke-width="0.6"/>
<line x1="527.0" y1="190.5" x2="527.0" y2="367.4" stroke="#5a5856" stroke-width="0.6"/>
<line x1="532.0" y1="189.5" x2="532.0" y2="367.4" stroke="#777572" stroke-width="0.6"/>
<line x1="535.0" y1="188.7" x2="535.0" y2="367.4" stroke="#777572" stroke-width="0.6"/>
<line x1="537.0" y1="186.6" x2="537.0" y2="367.4" stroke="#5a5856" stroke-width="0.6"/>
<line x1="539.0" y1="187.0" x2="539.0" y2="367.4" stroke="#5a5856" stroke-width="0.6"/>
<line x1="541.0" y1="185.7" x2="541.0" y2="367.4" stroke="#777572" stroke-width="0.6"/>
<line x1="542.0" y1="187.0" x2="542.0" y2="367.4" stroke="#5a5856" stroke-width="0.6"/>
<line x1="544.0" y1="184.7" x2="544.0" y2="367.4" stroke="#777572" stroke-width="0.6"/>
<line x1="547.0" y1="184.8" x2="547.0" y2="367.4" stroke="#5a5856" stroke-width="0.6"/>
<line x1="548.0" y1="185.2" x2="548.0" y2="367.4" stroke="#5a5856" stroke-width="0.6"/>
<line x1="549.0" y1="183.6" x2="549.0" y2="367.4" stroke="#777572" stroke-width="0.6"/>
<line x1="551.0" y1="183.0" x2="551.0" y2="367.4" stroke="#5a5856" stroke-width="0.6"/>
<line x1="552.0" y1="182.4" x2="552.0" y2="367.4" stroke="#5a5856" stroke-width="0.6"/>
<line x1="555.0" y1="181.6" x2="555.0" y2="367.4" stroke="#777572" stroke-width="0.6"/>
<line x1="557.0" y1="182.8" x2="557.0" y2="367.4" stroke="#777572" stroke-width="0.6"/>
<line x1="559.0" y1="182.2" x2="559.0" y2="367.4" stroke="#5a5856" stroke-width="0.6"/>
<line x1="560.0" y1="180.3" x2="560.0" y2="367.4" stroke="#777572" stroke-width="0.6"/>
<line x1="564.0" y1="179.0" x2="564.0" y2="367.4" stroke="#777572" stroke-width="0.6"/>
<line x1="566.0" y1="179.7" x2="566.0" y2="367.4" stroke="#777572" stroke-width="0.6"/>
<line x1="567.0" y1="179.0" x2="567.0" y2="367.4" stroke="#5a5856" stroke-width="0.6"/>
<line x1="568.0" y1="179.6" x2="568.0" y2="367.4" stroke="#777572" stroke-width="0.6"/>
<line x1="573.0" y1="176.2" x2="573.0" y2="367.4" stroke="#5a5856" stroke-width="0.6"/>
<line x1="574.0" y1="177.0" x2="574.0" y2="367.4" stroke="#5a5856" stroke-width="0.6"/>
<line x1="575.0" y1="175.7" x2="575.0" y2="367.4" stroke="#777572" stroke-width="0.6"/>
<line x1="576.0" y1="175.4" x2="576.0" y2="367.4" stroke="#5a5856" stroke-width="0.6"/>
<line x1="577.0" y1="176.5" x2="577.0" y2="367.4" stroke="#5a5856" stroke-width="0.6"/>
<line x1="578.0" y1="176.0" x2="578.0" y2="367.4" stroke="#777572" stroke-width="0.6"/>
<line x1="580.0" y1="175.4" x2="580.0" y2="367.4" stroke="#777572" stroke-width="0.6"/>
<line x1="581.0" y1="174.3" x2="581.0" y2="367.4" stroke="#777572" stroke-width="0.6"/>
<line x1="584.0" y1="174.2" x2="584.0" y2="367.4" stroke="#777572" stroke-width="0.6"/>
<line x1="585.0" y1="172.1" x2="585.0" y2="367.4" stroke="#5a5856" stroke-width="0.6"/>
<line x1="586.0" y1="173.0" x2="586.0" y2="367.4" stroke="#5a5856" stroke-width="0.6"/>
<line x1="588.0" y1="171.8" x2="588.0" y2="367.4" stroke="#5a5856" stroke-width="0.6"/>
<line x1="591.0" y1="170.0" x2="591.0" y2="367.4" stroke="#777572" stroke-width="0.6"/>
<line x1="593.0" y1="170.2" x2="593.0" y2="367.4" stroke="#5a5856" stroke-width="0.6"/>
<line x1="594.0" y1="169.8" x2="594.0" y2="367.4" stroke="#5a5856" stroke-width="0.6"/>
<line x1="595.0" y1="170.6" x2="595.0" y2="367.4" stroke="#777572" stroke-width="0.6"/>
<line x1="596.0" y1="169.3" x2="596.0" y2="367.4" stroke="#5a5856" stroke-width="0.6"/>
<line x1="598.0" y1="169.6" x2="598.0" y2="367.4" stroke="#5a5856" stroke-width="0.6"/>
<line x1="599.0" y1="167.5" x2="599.0" y2="367.4" stroke="#5a5856" stroke-width="0.6"/>
<line x1="600.0" y1="168.6" x2="600.0" y2="367.4" stroke="#5a5856" stroke-width="0.6"/>
<line x1="602.0" y1="166.7" x2="602.0" y2="367.4" stroke="#777572" stroke-width="0.6"/>
<line x1="608.0" y1="166.1" x2="608.0" y2="367.4" stroke="#5a5856" stroke-width="0.6"/>
<line x1="609.0" y1="164.8" x2="609.0" y2="367.4" stroke="#777572" stroke-width="0.6"/>
<line x1="610.0" y1="165.2" x2="610.0" y2="367.4" stroke="#5a5856" stroke-width="0.6"/>
<line x1="611.0" y1="164.9" x2="611.0" y2="367.4" stroke="#5a5856" stroke-width="0.6"/>
<line x1="612.0" y1="163.5" x2="612.0" y2="367.4" stroke="#777572" stroke-width="0.6"/>
<line x1="614.0" y1="163.3" x2="614.0" y2="367.4" stroke="#5a5856" stroke-width="0.6"/>
<line x1="615.0" y1="162.6" x2="615.0" y2="367.4" stroke="#5a5856" stroke-width="0.6"/>
<line x1="616.0" y1="162.0" x2="616.0" y2="367.4" stroke="#777572" stroke-width="0.6"/>
<line x1="621.0" y1="161.1" x2="621.0" y2="367.4" stroke="#777572" stroke-width="0.6"/>
<line x1="624.0" y1="160.8" x2="624.0" y2="367.4" stroke="#5a5856" stroke-width="0.6"/>
<line x1="627.0" y1="159.1" x2="627.0" y2="367.4" stroke="#5a5856" stroke-width="0.6"/>
<line x1="628.0" y1="158.7" x2="628.0" y2="367.4" stroke="#777572" stroke-width="0.6"/>
<line x1="631.0" y1="157.9" x2="631.0" y2="367.4" stroke="#777572" stroke-width="0.6"/>
<line x1="636.0" y1="158.4" x2="636.0" y2="367.4" stroke="#777572" stroke-width="0.6"/>
<line x1="638.0" y1="157.8" x2="638.0" y2="367.4" stroke="#5a5856" stroke-width="0.6"/>
<line x1="643.0" y1="155.0" x2="643.0" y2="367.4" stroke="#5a5856" stroke-width="0.6"/>
<line x1="649.0" y1="152.7" x2="649.0" y2="367.4" stroke="#777572" stroke-width="0.6"/>
<line x1="652.0" y1="151.6" x2="652.0" y2="367.4" stroke="#777572" stroke-width="0.6"/>
<line x1="653.0" y1="151.7" x2="653.0" y2="367.4" stroke="#5a5856" stroke-width="0.6"/>
<line x1="654.0" y1="152.8" x2="654.0" y2="367.4" stroke="#777572" stroke-width="0.6"/>
<line x1="657.0" y1="151.4" x2="657.0" y2="367.4" stroke="#777572" stroke-width="0.6"/>
<line x1="658.0" y1="151.4" x2="658.0" y2="367.4" stroke="#5a5856" stroke-width="0.6"/>
<line x1="660.0" y1="149.5" x2="660.0" y2="367.4" stroke="#5a5856" stroke-width="0.6"/>
<line x1="662.0" y1="149.2" x2="662.0" y2="367.4" stroke="#5a5856" stroke-width="0.6"/>
<line x1="663.0" y1="149.1" x2="663.0" y2="367.4" stroke="#777572" stroke-width="0.6"/>
<line x1="665.0" y1="148.7" x2="665.0" y2="367.4" stroke="#5a5856" stroke-width="0.6"/>
<line x1="666.0" y1="147.7" x2="666.0" y2="367.4" stroke="#5a5856" stroke-width="0.6"/>
<line x1="672.0" y1="146.7" x2="672.0" y2="367.4" stroke="#777572" stroke-width="0.6"/>
<line x1="674.0" y1="146.1" x2="674.0" y2="367.4" stroke="#5a5856" stroke-width="0.6"/>
<line x1="675.0" y1="144.2" x2="675.0" y2="367.4" stroke="#5a5856" stroke-width="0.6"/>
<line x1="677.0" y1="144.9" x2="677.0" y2="367.4" stroke="#777572" stroke-width="0.6"/>
<line x1="400.6" y1="230.3" x2="400.6" y2="367.4" stroke="#3f3d3b" stroke-width="0.8"/>
<line x1="460" y1="211.2" x2="460" y2="367.4" stroke="#3f3d3b" stroke-width="0.8"/>
<line x1="532.5" y1="189.5" x2="532.5" y2="367.4" stroke="#3f3d3b" stroke-width="0.8"/>
<line x1="577.5" y1="176.5" x2="577.5" y2="367.4" stroke="#3f3d3b" stroke-width="0.8"/>
<line x1="637.6" y1="157.8" x2="637.6" y2="367.4" stroke="#3f3d3b" stroke-width="0.8"/>
<rect x="342.1" y="93.6" width="336.9" height="273.79999999999995" fill="none" stroke="#000" stroke-width="1.9"/>
<line x1="335.1" y1="367.4" x2="342.1" y2="367.4" stroke="#000" stroke-width="1.7" />
<line x1="335.1" y1="276.09999999999997" x2="342.1" y2="276.09999999999997" stroke="#000" stroke-width="1.7" />
<line x1="335.1" y1="184.79999999999998" x2="342.1" y2="184.79999999999998" stroke="#000" stroke-width="1.7" />
<line x1="335.1" y1="93.6" x2="342.1" y2="93.6" stroke="#000" stroke-width="1.7" />
<line x1="338.1" y1="321.75" x2="342.1" y2="321.75" stroke="#000" stroke-width="1.4" />
<line x1="338.1" y1="230.45" x2="342.1" y2="230.45" stroke="#000" stroke-width="1.4" />
<line x1="338.1" y1="139.14999999999998" x2="342.1" y2="139.14999999999998" stroke="#000" stroke-width="1.4" />
<line x1="342.1" y1="367.4" x2="342.1" y2="374.4" stroke="#000" stroke-width="1.7" />
<line x1="409.48" y1="367.4" x2="409.48" y2="374.4" stroke="#000" stroke-width="1.7" />
<line x1="476.86" y1="367.4" x2="476.86" y2="374.4" stroke="#000" stroke-width="1.7" />
<line x1="544.24" y1="367.4" x2="544.24" y2="374.4" stroke="#000" stroke-width="1.7" />
<line x1="611.62" y1="367.4" x2="611.62" y2="374.4" stroke="#000" stroke-width="1.7" />
<line x1="679.0" y1="367.4" x2="679.0" y2="374.4" stroke="#000" stroke-width="1.7" />
<line x1="375.79" y1="367.4" x2="375.79" y2="371.59999999999997" stroke="#000" stroke-width="1.4" />
<line x1="443.17" y1="367.4" x2="443.17" y2="371.59999999999997" stroke="#000" stroke-width="1.4" />
<line x1="510.55" y1="367.4" x2="510.55" y2="371.59999999999997" stroke="#000" stroke-width="1.4" />
<line x1="577.9300000000001" y1="367.4" x2="577.9300000000001" y2="371.59999999999997" stroke="#000" stroke-width="1.4" />
<line x1="645.31" y1="367.4" x2="645.31" y2="371.59999999999997" stroke="#000" stroke-width="1.4" />
<text transform="translate(334 372.9) scale(1.04 1)" font-size="19.3" fill="#000" stroke="#000" stroke-width="0.16" text-anchor="end">4</text>
<text transform="translate(334 281.59999999999997) scale(1.04 1)" font-size="19.3" fill="#000" stroke="#000" stroke-width="0.16" text-anchor="end">5</text>
<text transform="translate(334 190.29999999999998) scale(1.04 1)" font-size="19.3" fill="#000" stroke="#000" stroke-width="0.16" text-anchor="end">6</text>
<text transform="translate(334 99.1) scale(1.04 1)" font-size="19.3" fill="#000" stroke="#000" stroke-width="0.16" text-anchor="end">7</text>
<text transform="translate(342.40000000000003 392.1) scale(1.04 1)" font-size="19.3" fill="#000" stroke="#000" stroke-width="0.16" text-anchor="middle">0</text>
<text transform="translate(408.78000000000003 392.1) scale(1.04 1)" font-size="19.3" fill="#000" stroke="#000" stroke-width="0.16" text-anchor="middle">200</text>
<text transform="translate(475.66 392.1) scale(1.04 1)" font-size="19.3" fill="#000" stroke="#000" stroke-width="0.16" text-anchor="middle">400</text>
<text transform="translate(546.44 392.1) scale(1.04 1)" font-size="19.3" fill="#000" stroke="#000" stroke-width="0.16" text-anchor="middle">600</text>
<text transform="translate(611.12 392.1) scale(1.04 1)" font-size="19.3" fill="#000" stroke="#000" stroke-width="0.16" text-anchor="middle">800</text>
<text transform="translate(679.2 392.1) scale(1.04 1)" font-size="19.3" fill="#000" stroke="#000" stroke-width="0.16" text-anchor="middle">1000</text>
<text x="511" y="419.0" font-size="19.3" fill="#000" stroke="#000" stroke-width="0.16" text-anchor="middle" >Cycle number</text>
<text x="305.8" y="234.7" font-size="19.3" fill="#000" stroke="#000" stroke-width="0.16" text-anchor="middle" transform="rotate(-90 305.8 234.7)" >Displacement (mm)</text>
<text x="466.2" y="78.7" font-size="19.3" fill="#000" stroke="#000" stroke-width="0.16" >G = 191 J/m<tspan font-size="10.5" dy="-6.4">2</tspan></text>
<line x1="342.1" y1="241.8" x2="679.0" y2="134" stroke="#be1e2d" stroke-width="2.6" stroke-dasharray="8.2 5.2"/>
<path d="M475.9 198.7 H542.2 V177" fill="none" stroke="#be1e2d" stroke-width="2"/>
<text x="552.4" y="199.8" font-size="17" fill="#fff" stroke="#fff" stroke-width="0.16" textLength="106.3" lengthAdjust="spacingAndGlyphs" >1.18 µm/cycle</text>
<rect x="763.5" y="91.9" width="337.29999999999995" height="273.25" fill="none" stroke="#000" stroke-width="1.9"/>
<line x1="756.5" y1="362.7" x2="763.5" y2="362.7" stroke="#000" stroke-width="1.7" />
<text transform="translate(756.9 368.8) scale(1.04 1)" font-size="19.3" fill="#000" stroke="#000" stroke-width="0.16" text-anchor="end">0</text>
<line x1="756.5" y1="308.58" x2="763.5" y2="308.58" stroke="#000" stroke-width="1.7" />
<text transform="translate(756.9 314.68) scale(1.04 1)" font-size="19.3" fill="#000" stroke="#000" stroke-width="0.16" text-anchor="end">2</text>
<line x1="756.5" y1="254.45999999999998" x2="763.5" y2="254.45999999999998" stroke="#000" stroke-width="1.7" />
<text transform="translate(756.9 260.56) scale(1.04 1)" font-size="19.3" fill="#000" stroke="#000" stroke-width="0.16" text-anchor="end">4</text>
<line x1="756.5" y1="200.34" x2="763.5" y2="200.34" stroke="#000" stroke-width="1.7" />
<text transform="translate(756.9 206.44) scale(1.04 1)" font-size="19.3" fill="#000" stroke="#000" stroke-width="0.16" text-anchor="end">6</text>
<line x1="756.5" y1="146.22" x2="763.5" y2="146.22" stroke="#000" stroke-width="1.7" />
<text transform="translate(756.9 152.32) scale(1.04 1)" font-size="19.3" fill="#000" stroke="#000" stroke-width="0.16" text-anchor="end">8</text>
<line x1="756.5" y1="92.10000000000002" x2="763.5" y2="92.10000000000002" stroke="#000" stroke-width="1.7" />
<text transform="translate(756.9 98.20000000000002) scale(1.04 1)" font-size="19.3" fill="#000" stroke="#000" stroke-width="0.16" text-anchor="end">10</text>
<line x1="759.5" y1="335.64" x2="763.5" y2="335.64" stroke="#000" stroke-width="1.4" />
<line x1="759.5" y1="281.52" x2="763.5" y2="281.52" stroke="#000" stroke-width="1.4" />
<line x1="759.5" y1="227.4" x2="763.5" y2="227.4" stroke="#000" stroke-width="1.4" />
<line x1="759.5" y1="173.28" x2="763.5" y2="173.28" stroke="#000" stroke-width="1.4" />
<line x1="759.5" y1="119.16" x2="763.5" y2="119.16" stroke="#000" stroke-width="1.4" />
<line x1="763.5" y1="365.15" x2="763.5" y2="372.15" stroke="#000" stroke-width="1.7" />
<text transform="translate(762.9 388.6) scale(1.04 1)" font-size="19.3" fill="#000" stroke="#000" stroke-width="0.16" text-anchor="middle">0</text>
<line x1="819.7166666666667" y1="365.15" x2="819.7166666666667" y2="372.15" stroke="#000" stroke-width="1.7" />
<text transform="translate(819.9166666666667 388.6) scale(1.04 1)" font-size="19.3" fill="#000" stroke="#000" stroke-width="0.16" text-anchor="middle">50</text>
<line x1="875.9333333333333" y1="365.15" x2="875.9333333333333" y2="372.15" stroke="#000" stroke-width="1.7" />
<text transform="translate(877.5333333333333 388.6) scale(1.04 1)" font-size="19.3" fill="#000" stroke="#000" stroke-width="0.16" text-anchor="middle">100</text>
<line x1="932.15" y1="365.15" x2="932.15" y2="372.15" stroke="#000" stroke-width="1.7" />
<text transform="translate(932.9499999999999 388.6) scale(1.04 1)" font-size="19.3" fill="#000" stroke="#000" stroke-width="0.16" text-anchor="middle">150</text>
<line x1="988.3666666666666" y1="365.15" x2="988.3666666666666" y2="372.15" stroke="#000" stroke-width="1.7" />
<text transform="translate(989.1666666666665 388.6) scale(1.04 1)" font-size="19.3" fill="#000" stroke="#000" stroke-width="0.16" text-anchor="middle">200</text>
<line x1="1044.5833333333333" y1="365.15" x2="1044.5833333333333" y2="372.15" stroke="#000" stroke-width="1.7" />
<text transform="translate(1045.3833333333332 388.6) scale(1.04 1)" font-size="19.3" fill="#000" stroke="#000" stroke-width="0.16" text-anchor="middle">250</text>
<line x1="1100.8" y1="365.15" x2="1100.8" y2="372.15" stroke="#000" stroke-width="1.7" />
<text transform="translate(1102.0 388.6) scale(1.04 1)" font-size="19.3" fill="#000" stroke="#000" stroke-width="0.16" text-anchor="middle">300</text>
<line x1="791.6083333333333" y1="365.15" x2="791.6083333333333" y2="369.34999999999997" stroke="#000" stroke-width="1.4" />
<line x1="847.825" y1="365.15" x2="847.825" y2="369.34999999999997" stroke="#000" stroke-width="1.4" />
<line x1="904.0416666666666" y1="365.15" x2="904.0416666666666" y2="369.34999999999997" stroke="#000" stroke-width="1.4" />
<line x1="960.2583333333333" y1="365.15" x2="960.2583333333333" y2="369.34999999999997" stroke="#000" stroke-width="1.4" />
<line x1="1016.4749999999999" y1="365.15" x2="1016.4749999999999" y2="369.34999999999997" stroke="#000" stroke-width="1.4" />
<line x1="1072.6916666666666" y1="365.15" x2="1072.6916666666666" y2="369.34999999999997" stroke="#000" stroke-width="1.4" />
<line x1="835.4" y1="361.6" x2="1055" y2="325" stroke="#ed1c24" stroke-width="2.5" stroke-dasharray="7.8 5.4"/>
<circle cx="791.4" cy="362.3" r="4.4" fill="#000"/>
<circle cx="843.5" cy="359.1" r="4.4" fill="#000"/>
<circle cx="871.5" cy="358.4" r="4.4" fill="#000"/>
<circle cx="926.6" cy="346.3" r="4.4" fill="#000"/>
<circle cx="978" cy="330.5" r="4.4" fill="#000"/>
<circle cx="1044" cy="183.7" r="4.4" fill="#000"/>
<line x1="834.9" y1="349.6" x2="848.3" y2="321.4" stroke="#000" stroke-width="2.5" />
<text x="814.8" y="301.8" font-size="19.3" fill="#000" stroke="#000" stroke-width="0.16" textLength="99.8" lengthAdjust="spacingAndGlyphs" >Γ<tspan font-size="10.5" dy="5.7">0</tspan><tspan dy="-5.7"> = 68 J/m</tspan><tspan font-size="11.5" dy="-6.4">2</tspan></text>
<text x="899.3" y="413.3" font-size="19.3" fill="#000" stroke="#000" stroke-width="0.16" >G (J/m<tspan font-size="12" dy="-6.6">2</tspan><tspan dy="6.6">)</tspan></text>
<text x="730.3" y="232" font-size="19.3" fill="#000" stroke="#000" stroke-width="0.16" text-anchor="middle" transform="rotate(-90 730.3 232)" >dc/dN (µm/cycle)</text>
<clipPath id="cD1"><rect x="40" y="527" width="85.8" height="272.5"/></clipPath>
<linearGradient id="gD1" x1="0" y1="0" x2="0" y2="1"><stop offset="0" stop-color="#d9d0c3"/><stop offset="0.145" stop-color="#d1c8bb"/><stop offset="0.2" stop-color="#8f8980"/><stop offset="0.3" stop-color="#67625c"/><stop offset="0.6" stop-color="#4b4743"/><stop offset="0.85" stop-color="#3b3835"/><stop offset="1" stop-color="#423f3b"/></linearGradient>
<linearGradient id="gD1l" x1="0" y1="0" x2="0" y2="1"><stop offset="0" stop-color="#d3cabd"/><stop offset="0.25" stop-color="#bbb4a8"/><stop offset="0.45" stop-color="#8d887f"/><stop offset="0.7" stop-color="#625e58"/><stop offset="1" stop-color="#4b4743"/></linearGradient>
<g clip-path="url(#cD1)"><g filter="url(#bl1)">
<rect x="35" y="522" width="95.8" height="282.5" fill="url(#gD1)" />
<rect x="35" y="562" width="28" height="120" fill="url(#gD1l)" />
<polygon points="40,527 57.5,527 57,533 53,561.5 48,561.5 40,545" fill="#3a3630" />
<polygon points="40,527 57.5,527 57,533.5 40,533.5" fill="#8f8b85" />
<polygon points="69,527 87,527 86.5,560.5 71,560.5" fill="#3a3630" />
<polygon points="69,527 87,527 87,533.5 69,533.5" fill="#8f8b85" />
<polygon points="92.7,527 126,527 126,562 116,562 116,558.5 94,558.5" fill="#1f1c19" />
<polygon points="112,569 116.5,572 116.5,748 111,746" fill="#8e8981" />
</g><g filter="url(#bl0)">
<polygon points="73.5,568.5 112.5,568.5 111,746 73.5,746" fill="#e6e3df" />
<line x1="77.4" y1="568.5" x2="77.2" y2="746.0" stroke="#2e2b29" stroke-width="0.9" opacity="0.62"/>
<line x1="81.3" y1="568.5" x2="81.0" y2="746.0" stroke="#2e2b29" stroke-width="0.9" opacity="0.62"/>
<line x1="85.2" y1="568.5" x2="84.8" y2="746.0" stroke="#2e2b29" stroke-width="0.9" opacity="0.62"/>
<line x1="89.1" y1="568.5" x2="88.5" y2="746.0" stroke="#2e2b29" stroke-width="0.9" opacity="0.62"/>
<line x1="93.0" y1="568.5" x2="92.2" y2="746.0" stroke="#2e2b29" stroke-width="0.9" opacity="0.62"/>
<line x1="96.9" y1="568.5" x2="96.0" y2="746.0" stroke="#2e2b29" stroke-width="0.9" opacity="0.62"/>
<line x1="100.8" y1="568.5" x2="99.8" y2="746.0" stroke="#2e2b29" stroke-width="0.9" opacity="0.62"/>
<line x1="104.7" y1="568.5" x2="103.5" y2="746.0" stroke="#2e2b29" stroke-width="0.9" opacity="0.62"/>
<line x1="108.6" y1="568.5" x2="107.2" y2="746.0" stroke="#2e2b29" stroke-width="0.9" opacity="0.62"/>
<line x1="73.5" y1="572.0" x2="112.5" y2="572.0" stroke="#2a2725" stroke-width="0.9" opacity="0.6"/>
<line x1="73.5" y1="575.6" x2="112.4" y2="575.6" stroke="#2a2725" stroke-width="0.9" opacity="0.6"/>
<line x1="73.5" y1="579.1" x2="112.4" y2="579.1" stroke="#2a2725" stroke-width="0.9" opacity="0.6"/>
<line x1="73.5" y1="582.7" x2="112.4" y2="582.7" stroke="#2a2725" stroke-width="0.9" opacity="0.6"/>
<line x1="73.5" y1="586.2" x2="112.3" y2="586.2" stroke="#2a2725" stroke-width="0.9" opacity="0.6"/>
<line x1="73.5" y1="589.8" x2="112.3" y2="589.8" stroke="#2a2725" stroke-width="0.9" opacity="0.6"/>
<line x1="73.5" y1="593.4" x2="112.3" y2="593.4" stroke="#2a2725" stroke-width="0.9" opacity="0.6"/>
<line x1="73.5" y1="596.9" x2="112.3" y2="596.9" stroke="#2a2725" stroke-width="0.9" opacity="0.6"/>
<line x1="73.5" y1="600.5" x2="112.2" y2="600.5" stroke="#2a2725" stroke-width="0.9" opacity="0.6"/>
<line x1="73.5" y1="604.0" x2="112.2" y2="604.0" stroke="#2a2725" stroke-width="1.3" opacity="0.95"/>
<line x1="73.5" y1="607.5" x2="112.2" y2="607.5" stroke="#2a2725" stroke-width="0.9" opacity="0.6"/>
<line x1="73.5" y1="611.1" x2="112.1" y2="611.1" stroke="#2a2725" stroke-width="0.9" opacity="0.6"/>
<line x1="73.5" y1="614.6" x2="112.1" y2="614.6" stroke="#2a2725" stroke-width="0.9" opacity="0.6"/>
<line x1="73.5" y1="618.2" x2="112.1" y2="618.2" stroke="#2a2725" stroke-width="0.9" opacity="0.6"/>
<line x1="73.5" y1="621.8" x2="112.0" y2="621.8" stroke="#2a2725" stroke-width="0.9" opacity="0.6"/>
<line x1="73.5" y1="625.3" x2="112.0" y2="625.3" stroke="#2a2725" stroke-width="0.9" opacity="0.6"/>
<line x1="73.5" y1="628.9" x2="112.0" y2="628.9" stroke="#2a2725" stroke-width="0.9" opacity="0.6"/>
<line x1="73.5" y1="632.4" x2="112.0" y2="632.4" stroke="#2a2725" stroke-width="0.9" opacity="0.6"/>
<line x1="73.5" y1="636.0" x2="111.9" y2="636.0" stroke="#2a2725" stroke-width="0.9" opacity="0.6"/>
<line x1="73.5" y1="639.5" x2="111.9" y2="639.5" stroke="#2a2725" stroke-width="1.3" opacity="0.95"/>
<line x1="73.5" y1="643.0" x2="111.9" y2="643.0" stroke="#2a2725" stroke-width="0.9" opacity="0.6"/>
<line x1="73.5" y1="646.6" x2="111.8" y2="646.6" stroke="#2a2725" stroke-width="0.9" opacity="0.6"/>
<line x1="73.5" y1="650.1" x2="111.8" y2="650.1" stroke="#2a2725" stroke-width="0.9" opacity="0.6"/>
<line x1="73.5" y1="653.7" x2="111.8" y2="653.7" stroke="#2a2725" stroke-width="0.9" opacity="0.6"/>
<line x1="73.5" y1="657.2" x2="111.8" y2="657.2" stroke="#2a2725" stroke-width="0.9" opacity="0.6"/>
<line x1="73.5" y1="660.8" x2="111.7" y2="660.8" stroke="#2a2725" stroke-width="0.9" opacity="0.6"/>
<line x1="73.5" y1="664.4" x2="111.7" y2="664.4" stroke="#2a2725" stroke-width="0.9" opacity="0.6"/>
<line x1="73.5" y1="667.9" x2="111.7" y2="667.9" stroke="#2a2725" stroke-width="0.9" opacity="0.6"/>
<line x1="73.5" y1="671.5" x2="111.6" y2="671.5" stroke="#2a2725" stroke-width="0.9" opacity="0.6"/>
<line x1="73.5" y1="675.0" x2="111.6" y2="675.0" stroke="#2a2725" stroke-width="1.3" opacity="0.95"/>
<line x1="73.5" y1="678.5" x2="111.6" y2="678.5" stroke="#2a2725" stroke-width="0.9" opacity="0.6"/>
<line x1="73.5" y1="682.1" x2="111.5" y2="682.1" stroke="#2a2725" stroke-width="0.9" opacity="0.6"/>
<line x1="73.5" y1="685.6" x2="111.5" y2="685.6" stroke="#2a2725" stroke-width="0.9" opacity="0.6"/>
<line x1="73.5" y1="689.2" x2="111.5" y2="689.2" stroke="#2a2725" stroke-width="0.9" opacity="0.6"/>
<line x1="73.5" y1="692.8" x2="111.5" y2="692.8" stroke="#2a2725" stroke-width="0.9" opacity="0.6"/>
<line x1="73.5" y1="696.3" x2="111.4" y2="696.3" stroke="#2a2725" stroke-width="0.9" opacity="0.6"/>
<line x1="73.5" y1="699.9" x2="111.4" y2="699.9" stroke="#2a2725" stroke-width="0.9" opacity="0.6"/>
<line x1="73.5" y1="703.4" x2="111.4" y2="703.4" stroke="#2a2725" stroke-width="0.9" opacity="0.6"/>
<line x1="73.5" y1="707.0" x2="111.3" y2="707.0" stroke="#2a2725" stroke-width="0.9" opacity="0.6"/>
<line x1="73.5" y1="710.5" x2="111.3" y2="710.5" stroke="#2a2725" stroke-width="1.3" opacity="0.95"/>
<line x1="73.5" y1="714.0" x2="111.3" y2="714.0" stroke="#2a2725" stroke-width="0.9" opacity="0.6"/>
<line x1="73.5" y1="717.6" x2="111.2" y2="717.6" stroke="#2a2725" stroke-width="0.9" opacity="0.6"/>
<line x1="73.5" y1="721.1" x2="111.2" y2="721.1" stroke="#2a2725" stroke-width="0.9" opacity="0.6"/>
<line x1="73.5" y1="724.7" x2="111.2" y2="724.7" stroke="#2a2725" stroke-width="0.9" opacity="0.6"/>
<line x1="73.5" y1="728.2" x2="111.2" y2="728.2" stroke="#2a2725" stroke-width="0.9" opacity="0.6"/>
<line x1="73.5" y1="731.8" x2="111.1" y2="731.8" stroke="#2a2725" stroke-width="0.9" opacity="0.6"/>
<line x1="73.5" y1="735.4" x2="111.1" y2="735.4" stroke="#2a2725" stroke-width="0.9" opacity="0.6"/>
<line x1="73.5" y1="738.9" x2="111.1" y2="738.9" stroke="#2a2725" stroke-width="0.9" opacity="0.6"/>
<line x1="73.5" y1="742.5" x2="111.0" y2="742.5" stroke="#2a2725" stroke-width="0.9" opacity="0.6"/>
</g><g filter="url(#bl1)">
<g transform="translate(89.3 581.5) rotate(0)">
<path d="M-12 6 L12 5" fill="none" stroke="#cf2438" stroke-width="3.6" stroke-linecap="round" stroke-linejoin="round"/>
<path d="M2 -9 L3 11" fill="none" stroke="#cf2438" stroke-width="3.6" stroke-linecap="round" stroke-linejoin="round"/>
<path d="M2 -9 C6 -9 11 -2 12 5" fill="none" stroke="#cf2438" stroke-width="3.6" stroke-linecap="round" stroke-linejoin="round"/>
</g>
<g transform="translate(89.3 622) rotate(0)">
<path d="M-10 -7 C-13 3 -9 9 -5 8 C-1 7 0 1 0 -2 C0 1 1 8 5 8 C10 8 13 1 9 -8" fill="none" stroke="#cf2438" stroke-width="3.6" stroke-linecap="round" stroke-linejoin="round"/>
</g>
<g transform="translate(88.2 662.5) rotate(0)">
<path d="M8 -6 C12 0 7 7 0 2 C-4 -2 -7 -5 -9.5 -7 M-9.5 -7 L-8.5 8" fill="none" stroke="#cf2438" stroke-width="3.6" stroke-linecap="round" stroke-linejoin="round"/>
</g>
<g transform="translate(87 701) rotate(0)">
<path d="M-12 -1.8 L12 1.8" fill="none" stroke="#cf2438" stroke-width="4.0" stroke-linecap="round" stroke-linejoin="round"/>
</g>
<g transform="translate(88.2 733.8) rotate(0)">
<path d="M0 -5.2 C6 -5.2 8 -2.5 8 0 C8 3.2 4.5 5.2 0 5.2 C-5 5.2 -8 3 -8 0 C-8 -3 -5 -5.2 0 -5.2 Z" fill="none" stroke="#cf2438" stroke-width="3.6" stroke-linecap="round" stroke-linejoin="round"/>
</g>
<path d="M59 527 L68 527 L69 545 L76 556 L75 568 L73.5 600 L73.5 700 L72 760 L70.5 772 L62 772 L61.5 740 L61 680 L60.5 620 L62 575 L60 550 Z" fill="#e8dfcc"/>
<path d="M70.5 575 L73 575 L73.2 700 L71.5 770 L69.5 770 L71 700 Z" fill="#cdbb95" opacity="0.8"/>
<polygon points="52,757 62,757 62,800 52,800" fill="#7b7770" />
<polygon points="71,757 84,757 84,800 71,800" fill="#7b7770" />
<polygon points="52,757 84,757 84,761 52,761" fill="#a5a199" />
<polygon points="62,770 70,770 70,800 62,800" fill="#262320" />
<polygon points="40,764 47,764 47,800 40,800" fill="#24211e" />
<polygon points="84,770 100,770 100,800 84,800" fill="#5f5b55" />
<polygon points="84,784 101,784 101,790 84,790" fill="#c9c5bc" />
<polygon points="100.4,765.5 126,765.5 126,800 100.4,800" fill="#24211e" />
</g></g>
<clipPath id="cD2"><rect x="164.4" y="527" width="101.1" height="272.5"/></clipPath>
<linearGradient id="gD2" x1="0" y1="0" x2="0" y2="1"><stop offset="0" stop-color="#e4e0da"/><stop offset="0.15" stop-color="#d9d4cd"/><stop offset="0.19" stop-color="#8a857e"/><stop offset="0.23" stop-color="#5c5853"/><stop offset="0.6" stop-color="#4a4643"/><stop offset="0.86" stop-color="#3a3734"/><stop offset="1" stop-color="#3f3c39"/></linearGradient>
<g clip-path="url(#cD2)"><g filter="url(#bl1)">
<rect x="159.4" y="522" width="111.1" height="282.5" fill="url(#gD2)" />
<ellipse cx="238" cy="549" rx="15" ry="8" fill="#6f6b66" opacity="0.85"/>
<ellipse cx="182" cy="552" rx="14" ry="12" fill="#bdb8b1" opacity="0.7"/>
<ellipse cx="180" cy="618" rx="14" ry="9" fill="#8d8982" opacity="0.55"/>
<polygon points="252,527 256,527 265,600 265,640" fill="#bdb8b0" opacity="0.6"/>
<polygon points="259,572.3 262.5,574 247,752 243.5,750.6" fill="#908b83" />
</g><g filter="url(#bl0)">
<polygon points="217,565.8 259,572.3 243.5,750.6 204,745.7" fill="#e6e3df" />
<line x1="221.2" y1="566.4" x2="207.9" y2="746.2" stroke="#2e2b29" stroke-width="0.9" opacity="0.62"/>
<line x1="225.4" y1="567.1" x2="211.9" y2="746.7" stroke="#2e2b29" stroke-width="0.9" opacity="0.62"/>
<line x1="229.6" y1="567.8" x2="215.8" y2="747.2" stroke="#2e2b29" stroke-width="0.9" opacity="0.62"/>
<line x1="233.8" y1="568.4" x2="219.8" y2="747.7" stroke="#2e2b29" stroke-width="0.9" opacity="0.62"/>
<line x1="238.0" y1="569.0" x2="223.8" y2="748.2" stroke="#2e2b29" stroke-width="0.9" opacity="0.62"/>
<line x1="242.2" y1="569.7" x2="227.7" y2="748.6" stroke="#2e2b29" stroke-width="0.9" opacity="0.62"/>
<line x1="246.4" y1="570.3" x2="231.7" y2="749.1" stroke="#2e2b29" stroke-width="0.9" opacity="0.62"/>
<line x1="250.6" y1="571.0" x2="235.6" y2="749.6" stroke="#2e2b29" stroke-width="0.9" opacity="0.62"/>
<line x1="254.8" y1="571.6" x2="239.6" y2="750.1" stroke="#2e2b29" stroke-width="0.9" opacity="0.62"/>
<line x1="216.7" y1="569.4" x2="258.7" y2="575.9" stroke="#2a2725" stroke-width="0.9" opacity="0.6"/>
<line x1="216.5" y1="573.0" x2="258.4" y2="579.4" stroke="#2a2725" stroke-width="0.9" opacity="0.6"/>
<line x1="216.2" y1="576.6" x2="258.1" y2="583.0" stroke="#2a2725" stroke-width="0.9" opacity="0.6"/>
<line x1="216.0" y1="580.2" x2="257.8" y2="586.6" stroke="#2a2725" stroke-width="0.9" opacity="0.6"/>
<line x1="215.7" y1="583.8" x2="257.4" y2="590.1" stroke="#2a2725" stroke-width="0.9" opacity="0.6"/>
<line x1="215.4" y1="587.4" x2="257.1" y2="593.7" stroke="#2a2725" stroke-width="0.9" opacity="0.6"/>
<line x1="215.2" y1="591.0" x2="256.8" y2="597.3" stroke="#2a2725" stroke-width="0.9" opacity="0.6"/>
<line x1="214.9" y1="594.6" x2="256.5" y2="600.8" stroke="#2a2725" stroke-width="0.9" opacity="0.6"/>
<line x1="214.7" y1="598.2" x2="256.2" y2="604.4" stroke="#2a2725" stroke-width="0.9" opacity="0.6"/>
<line x1="214.4" y1="601.8" x2="255.9" y2="608.0" stroke="#2a2725" stroke-width="1.3" opacity="0.95"/>
<line x1="214.1" y1="605.4" x2="255.6" y2="611.5" stroke="#2a2725" stroke-width="0.9" opacity="0.6"/>
<line x1="213.9" y1="609.0" x2="255.3" y2="615.1" stroke="#2a2725" stroke-width="0.9" opacity="0.6"/>
<line x1="213.6" y1="612.6" x2="255.0" y2="618.7" stroke="#2a2725" stroke-width="0.9" opacity="0.6"/>
<line x1="213.4" y1="616.2" x2="254.7" y2="622.2" stroke="#2a2725" stroke-width="0.9" opacity="0.6"/>
<line x1="213.1" y1="619.8" x2="254.3" y2="625.8" stroke="#2a2725" stroke-width="0.9" opacity="0.6"/>
<line x1="212.8" y1="623.4" x2="254.0" y2="629.4" stroke="#2a2725" stroke-width="0.9" opacity="0.6"/>
<line x1="212.6" y1="627.0" x2="253.7" y2="632.9" stroke="#2a2725" stroke-width="0.9" opacity="0.6"/>
<line x1="212.3" y1="630.6" x2="253.4" y2="636.5" stroke="#2a2725" stroke-width="0.9" opacity="0.6"/>
<line x1="212.1" y1="634.2" x2="253.1" y2="640.1" stroke="#2a2725" stroke-width="0.9" opacity="0.6"/>
<line x1="211.8" y1="637.8" x2="252.8" y2="643.6" stroke="#2a2725" stroke-width="1.3" opacity="0.95"/>
<line x1="211.5" y1="641.4" x2="252.5" y2="647.2" stroke="#2a2725" stroke-width="0.9" opacity="0.6"/>
<line x1="211.3" y1="645.0" x2="252.2" y2="650.8" stroke="#2a2725" stroke-width="0.9" opacity="0.6"/>
<line x1="211.0" y1="648.6" x2="251.9" y2="654.3" stroke="#2a2725" stroke-width="0.9" opacity="0.6"/>
<line x1="210.8" y1="652.2" x2="251.6" y2="657.9" stroke="#2a2725" stroke-width="0.9" opacity="0.6"/>
<line x1="210.5" y1="655.8" x2="251.2" y2="661.5" stroke="#2a2725" stroke-width="0.9" opacity="0.6"/>
<line x1="210.2" y1="659.3" x2="250.9" y2="665.0" stroke="#2a2725" stroke-width="0.9" opacity="0.6"/>
<line x1="210.0" y1="662.9" x2="250.6" y2="668.6" stroke="#2a2725" stroke-width="0.9" opacity="0.6"/>
<line x1="209.7" y1="666.5" x2="250.3" y2="672.1" stroke="#2a2725" stroke-width="0.9" opacity="0.6"/>
<line x1="209.5" y1="670.1" x2="250.0" y2="675.7" stroke="#2a2725" stroke-width="0.9" opacity="0.6"/>
<line x1="209.2" y1="673.7" x2="249.7" y2="679.3" stroke="#2a2725" stroke-width="1.3" opacity="0.95"/>
<line x1="208.9" y1="677.3" x2="249.4" y2="682.8" stroke="#2a2725" stroke-width="0.9" opacity="0.6"/>
<line x1="208.7" y1="680.9" x2="249.1" y2="686.4" stroke="#2a2725" stroke-width="0.9" opacity="0.6"/>
<line x1="208.4" y1="684.5" x2="248.8" y2="690.0" stroke="#2a2725" stroke-width="0.9" opacity="0.6"/>
<line x1="208.2" y1="688.1" x2="248.5" y2="693.5" stroke="#2a2725" stroke-width="0.9" opacity="0.6"/>
<line x1="207.9" y1="691.7" x2="248.2" y2="697.1" stroke="#2a2725" stroke-width="0.9" opacity="0.6"/>
<line x1="207.6" y1="695.3" x2="247.8" y2="700.7" stroke="#2a2725" stroke-width="0.9" opacity="0.6"/>
<line x1="207.4" y1="698.9" x2="247.5" y2="704.2" stroke="#2a2725" stroke-width="0.9" opacity="0.6"/>
<line x1="207.1" y1="702.5" x2="247.2" y2="707.8" stroke="#2a2725" stroke-width="0.9" opacity="0.6"/>
<line x1="206.9" y1="706.1" x2="246.9" y2="711.4" stroke="#2a2725" stroke-width="0.9" opacity="0.6"/>
<line x1="206.6" y1="709.7" x2="246.6" y2="714.9" stroke="#2a2725" stroke-width="1.3" opacity="0.95"/>
<line x1="206.3" y1="713.3" x2="246.3" y2="718.5" stroke="#2a2725" stroke-width="0.9" opacity="0.6"/>
<line x1="206.1" y1="716.9" x2="246.0" y2="722.1" stroke="#2a2725" stroke-width="0.9" opacity="0.6"/>
<line x1="205.8" y1="720.5" x2="245.7" y2="725.6" stroke="#2a2725" stroke-width="0.9" opacity="0.6"/>
<line x1="205.6" y1="724.1" x2="245.4" y2="729.2" stroke="#2a2725" stroke-width="0.9" opacity="0.6"/>
<line x1="205.3" y1="727.7" x2="245.1" y2="732.8" stroke="#2a2725" stroke-width="0.9" opacity="0.6"/>
<line x1="205.0" y1="731.3" x2="244.7" y2="736.3" stroke="#2a2725" stroke-width="0.9" opacity="0.6"/>
<line x1="204.8" y1="734.9" x2="244.4" y2="739.9" stroke="#2a2725" stroke-width="0.9" opacity="0.6"/>
<line x1="204.5" y1="738.5" x2="244.1" y2="743.5" stroke="#2a2725" stroke-width="0.9" opacity="0.6"/>
<line x1="204.3" y1="742.1" x2="243.8" y2="747.0" stroke="#2a2725" stroke-width="0.9" opacity="0.6"/>
</g><g filter="url(#bl1)">
<g transform="translate(233.5 580.5) rotate(5)">
<path d="M-12 6 L12 5" fill="none" stroke="#cf2438" stroke-width="3.6" stroke-linecap="round" stroke-linejoin="round"/>
<path d="M2 -9 L3 11" fill="none" stroke="#cf2438" stroke-width="3.6" stroke-linecap="round" stroke-linejoin="round"/>
<path d="M2 -9 C6 -9 11 -2 12 5" fill="none" stroke="#cf2438" stroke-width="3.6" stroke-linecap="round" stroke-linejoin="round"/>
</g>
<g transform="translate(231.9 618.5) rotate(5)">
<path d="M-10 -7 C-13 3 -9 9 -5 8 C-1 7 0 1 0 -2 C0 1 1 8 5 8 C10 8 13 1 9 -8" fill="none" stroke="#cf2438" stroke-width="3.6" stroke-linecap="round" stroke-linejoin="round"/>
</g>
<g transform="translate(227.6 659) rotate(5)">
<path d="M8 -6 C12 0 7 7 0 2 C-4 -2 -7 -5 -9.5 -7 M-9.5 -7 L-8.5 8" fill="none" stroke="#cf2438" stroke-width="3.6" stroke-linecap="round" stroke-linejoin="round"/>
</g>
<g transform="translate(219.5 701.5) rotate(5)">
<path d="M-12 -1.8 L12 1.8" fill="none" stroke="#cf2438" stroke-width="4.0" stroke-linecap="round" stroke-linejoin="round"/>
</g>
<g transform="translate(218.8 734.3) rotate(5)">
<path d="M0 -5.2 C6 -5.2 8 -2.5 8 0 C8 3.2 4.5 5.2 0 5.2 C-5 5.2 -8 3 -8 0 C-8 -3 -5 -5.2 0 -5.2 Z" fill="none" stroke="#cf2438" stroke-width="3.6" stroke-linecap="round" stroke-linejoin="round"/>
</g>
<path d="M203.5 527 L208.5 527 L210 560 L217 565 L214.5 620 L211 680 L206 745 L200.5 770 L195.5 770 L196.5 735 L197.5 690 L200 640 L203 580 Z" fill="#e9e0cd"/>
<path d="M211.5 568 L216 568 L212.5 660 L207 745 L204 745 L208 660 Z" fill="#cdbb96" opacity="0.75"/>
<polygon points="198,676 183.5,706 186,709 198.5,690" fill="#ece7de" />
</g><g filter="url(#bl0)">
<path d="M183.8 709.9 L195.9 690.2 L197.6 724.6" fill="none" stroke="#f0201f" stroke-width="1.9"/>
</g><g filter="url(#bl1)">
<polygon points="184.4,757.2 196,757.2 196,800 184.4,800" fill="#77736c" />
<polygon points="201,757.2 212.3,757.2 212.3,800 201,800" fill="#77736c" />
<polygon points="184.4,757.2 212.3,757.2 212.3,761.5 184.4,761.5" fill="#aaa69e" />
<polygon points="196,775 201,775 201,800 196,800" fill="#262320" />
<polygon points="164,762 171.4,762 171.4,800 164,800" fill="#24211e" />
<polygon points="171.4,786.6 184.4,786.6 184.4,793 171.4,793" fill="#b5b1aa" />
<polygon points="212.3,786.6 230,786.6 230,793 212.3,793" fill="#b5b1aa" />
<polygon points="229.6,760.4 266,760.4 266,791.5 229.6,791.5" fill="#24211e" />
<polygon points="229.6,791.5 266,791.5 266,800 229.6,800" fill="#77736d" />
</g></g>
<clipPath id="cD3"><rect x="303.1" y="527" width="99.9" height="273"/></clipPath>
<linearGradient id="gD3" x1="0" y1="0" x2="0" y2="1"><stop offset="0" stop-color="#bdb8b0"/><stop offset="0.09" stop-color="#d6d2cb"/><stop offset="0.205" stop-color="#cfcbc4"/><stop offset="0.235" stop-color="#7f7a73"/><stop offset="0.265" stop-color="#58544f"/><stop offset="0.62" stop-color="#4a4643"/><stop offset="0.84" stop-color="#3b3835"/><stop offset="1" stop-color="#423f3b"/></linearGradient>
<g clip-path="url(#cD3)"><g filter="url(#bl1)">
<rect x="298.1" y="522" width="109.9" height="283" fill="url(#gD3)" />
<polygon points="303,527 314.4,527 314.4,556 303,556" fill="#c6c2bc" />
<polygon points="314.4,527 327.2,527 327.2,553.9 317,553.9" fill="#2b2825" />
<polygon points="327.2,527 342,527 342,556 327.2,556" fill="#a9a59e" />
<polygon points="342,527 351.6,527 351.6,553.9 342,553.9" fill="#2b2825" />
<polygon points="351.6,527 359,527 359,556 351.6,556" fill="#d2cec8" />
<polygon points="359,527 403,527 403,555.9 375.3,555.9 375.3,551.8 361,551.8 359,549" fill="#1c1a17" />
<ellipse cx="317" cy="575" rx="13" ry="10" fill="#e9e5df" opacity="0.85"/>
<ellipse cx="362" cy="577" rx="8" ry="4" fill="#8a8680" opacity="0.8"/>
<ellipse cx="388" cy="572" rx="15" ry="10" fill="#e6e2dc" opacity="0.9"/>
<ellipse cx="316" cy="610" rx="10" ry="12" fill="#8a8680" opacity="0.45"/>
<polygon points="389,600 393,600 403,690 403,720" fill="#a09b93" opacity="0.5"/>
<polygon points="385,583.8 388.5,585.5 381,734 377.4,732.6" fill="#908b83" />
</g><g filter="url(#bl0)">
<polygon points="349.6,582.2 385,583.8 377.4,732.6 342.1,729.4" fill="#e6e3df" />
<line x1="353.1" y1="582.4" x2="345.6" y2="729.7" stroke="#2e2b29" stroke-width="0.9" opacity="0.62"/>
<line x1="356.7" y1="582.5" x2="349.2" y2="730.0" stroke="#2e2b29" stroke-width="0.9" opacity="0.62"/>
<line x1="360.2" y1="582.7" x2="352.7" y2="730.4" stroke="#2e2b29" stroke-width="0.9" opacity="0.62"/>
<line x1="363.8" y1="582.8" x2="356.2" y2="730.7" stroke="#2e2b29" stroke-width="0.9" opacity="0.62"/>
<line x1="367.3" y1="583.0" x2="359.8" y2="731.0" stroke="#2e2b29" stroke-width="0.9" opacity="0.62"/>
<line x1="370.8" y1="583.2" x2="363.3" y2="731.3" stroke="#2e2b29" stroke-width="0.9" opacity="0.62"/>
<line x1="374.4" y1="583.3" x2="366.8" y2="731.6" stroke="#2e2b29" stroke-width="0.9" opacity="0.62"/>
<line x1="377.9" y1="583.5" x2="370.3" y2="732.0" stroke="#2e2b29" stroke-width="0.9" opacity="0.62"/>
<line x1="381.5" y1="583.6" x2="373.9" y2="732.3" stroke="#2e2b29" stroke-width="0.9" opacity="0.62"/>
<line x1="349.4" y1="585.8" x2="384.8" y2="587.4" stroke="#2a2725" stroke-width="0.9" opacity="0.6"/>
<line x1="349.2" y1="589.4" x2="384.6" y2="591.1" stroke="#2a2725" stroke-width="0.9" opacity="0.6"/>
<line x1="349.0" y1="593.0" x2="384.4" y2="594.7" stroke="#2a2725" stroke-width="0.9" opacity="0.6"/>
<line x1="348.9" y1="596.6" x2="384.3" y2="598.4" stroke="#2a2725" stroke-width="0.9" opacity="0.6"/>
<line x1="348.7" y1="600.2" x2="384.1" y2="602.0" stroke="#2a2725" stroke-width="0.9" opacity="0.6"/>
<line x1="348.5" y1="603.8" x2="383.9" y2="605.7" stroke="#2a2725" stroke-width="0.9" opacity="0.6"/>
<line x1="348.3" y1="607.4" x2="383.7" y2="609.3" stroke="#2a2725" stroke-width="0.9" opacity="0.6"/>
<line x1="348.1" y1="611.1" x2="383.5" y2="613.0" stroke="#2a2725" stroke-width="0.9" opacity="0.6"/>
<line x1="347.9" y1="614.7" x2="383.3" y2="616.6" stroke="#2a2725" stroke-width="0.9" opacity="0.6"/>
<line x1="347.8" y1="618.3" x2="383.1" y2="620.3" stroke="#2a2725" stroke-width="0.9" opacity="0.6"/>
<line x1="347.6" y1="621.9" x2="383.0" y2="623.9" stroke="#2a2725" stroke-width="0.9" opacity="0.6"/>
<line x1="347.4" y1="625.5" x2="382.8" y2="627.5" stroke="#2a2725" stroke-width="1.3" opacity="0.95"/>
<line x1="347.2" y1="629.2" x2="382.6" y2="631.3" stroke="#2a2725" stroke-width="0.9" opacity="0.6"/>
<line x1="347.0" y1="632.8" x2="382.4" y2="635.0" stroke="#2a2725" stroke-width="0.9" opacity="0.6"/>
<line x1="346.8" y1="636.5" x2="382.2" y2="638.7" stroke="#2a2725" stroke-width="0.9" opacity="0.6"/>
<line x1="346.6" y1="640.2" x2="382.0" y2="642.4" stroke="#2a2725" stroke-width="0.9" opacity="0.6"/>
<line x1="346.5" y1="643.9" x2="381.8" y2="646.1" stroke="#2a2725" stroke-width="0.9" opacity="0.6"/>
<line x1="346.3" y1="647.6" x2="381.6" y2="649.9" stroke="#2a2725" stroke-width="0.9" opacity="0.6"/>
<line x1="346.1" y1="651.2" x2="381.4" y2="653.6" stroke="#2a2725" stroke-width="0.9" opacity="0.6"/>
<line x1="345.9" y1="654.9" x2="381.2" y2="657.3" stroke="#2a2725" stroke-width="0.9" opacity="0.6"/>
<line x1="345.7" y1="658.6" x2="381.1" y2="661.0" stroke="#2a2725" stroke-width="0.9" opacity="0.6"/>
<line x1="345.5" y1="662.3" x2="380.9" y2="664.7" stroke="#2a2725" stroke-width="1.3" opacity="0.95"/>
<line x1="345.3" y1="665.8" x2="380.7" y2="668.3" stroke="#2a2725" stroke-width="0.9" opacity="0.6"/>
<line x1="345.2" y1="669.3" x2="380.5" y2="671.8" stroke="#2a2725" stroke-width="0.9" opacity="0.6"/>
<line x1="345.0" y1="672.8" x2="380.3" y2="675.4" stroke="#2a2725" stroke-width="0.9" opacity="0.6"/>
<line x1="344.8" y1="676.3" x2="380.1" y2="678.9" stroke="#2a2725" stroke-width="0.9" opacity="0.6"/>
<line x1="344.6" y1="679.8" x2="380.0" y2="682.5" stroke="#2a2725" stroke-width="0.9" opacity="0.6"/>
<line x1="344.4" y1="683.3" x2="379.8" y2="686.0" stroke="#2a2725" stroke-width="0.9" opacity="0.6"/>
<line x1="344.3" y1="686.8" x2="379.6" y2="689.5" stroke="#2a2725" stroke-width="0.9" opacity="0.6"/>
<line x1="344.1" y1="690.3" x2="379.4" y2="693.1" stroke="#2a2725" stroke-width="0.9" opacity="0.6"/>
<line x1="343.9" y1="693.8" x2="379.2" y2="696.6" stroke="#2a2725" stroke-width="0.9" opacity="0.6"/>
<line x1="343.7" y1="697.3" x2="379.1" y2="700.2" stroke="#2a2725" stroke-width="1.3" opacity="0.95"/>
<line x1="343.6" y1="700.9" x2="378.9" y2="703.8" stroke="#2a2725" stroke-width="0.9" opacity="0.6"/>
<line x1="343.4" y1="704.4" x2="378.7" y2="707.4" stroke="#2a2725" stroke-width="0.9" opacity="0.6"/>
<line x1="343.2" y1="708.0" x2="378.5" y2="711.0" stroke="#2a2725" stroke-width="0.9" opacity="0.6"/>
<line x1="343.0" y1="711.6" x2="378.3" y2="714.6" stroke="#2a2725" stroke-width="0.9" opacity="0.6"/>
<line x1="342.8" y1="715.1" x2="378.1" y2="718.2" stroke="#2a2725" stroke-width="0.9" opacity="0.6"/>
<line x1="342.6" y1="718.7" x2="378.0" y2="721.8" stroke="#2a2725" stroke-width="0.9" opacity="0.6"/>
<line x1="342.5" y1="722.3" x2="377.8" y2="725.4" stroke="#2a2725" stroke-width="0.9" opacity="0.6"/>
<line x1="342.3" y1="725.8" x2="377.6" y2="729.0" stroke="#2a2725" stroke-width="0.9" opacity="0.6"/>
</g><g filter="url(#bl1)">
<path d="M358 583.6 L378 584.6 M368 584 L368.3 590.5" fill="none" stroke="#cf2438" stroke-width="3.2" stroke-linecap="round" stroke-linejoin="round"/>
<g transform="translate(366 615) rotate(4)">
<path d="M-10 -7 C-13 3 -9 9 -5 8 C-1 7 0 1 0 -2 C0 1 1 8 5 8 C10 8 13 1 9 -8" fill="none" stroke="#cf2438" stroke-width="3.6" stroke-linecap="round" stroke-linejoin="round"/>
</g>
<g transform="translate(364.4 652.5) rotate(4)">
<path d="M8 -6 C12 0 7 7 0 2 C-4 -2 -7 -5 -9.5 -7 M-9.5 -7 L-8.5 8" fill="none" stroke="#cf2438" stroke-width="3.6" stroke-linecap="round" stroke-linejoin="round"/>
</g>
<g transform="translate(360 690.1) rotate(4)">
<path d="M-12 -1.8 L12 1.8" fill="none" stroke="#cf2438" stroke-width="4.0" stroke-linecap="round" stroke-linejoin="round"/>
</g>
<g transform="translate(357.8 721.2) rotate(4)">
<path d="M0 -5.2 C6 -5.2 8 -2.5 8 0 C8 3.2 4.5 5.2 0 5.2 C-5 5.2 -8 3 -8 0 C-8 -3 -5 -5.2 0 -5.2 Z" fill="none" stroke="#cf2438" stroke-width="3.6" stroke-linecap="round" stroke-linejoin="round"/>
</g>
<path d="M331 527 L340 527 L341 560 L346 575 L350.5 582 L349.5 640 L346 700 L343 740 L343 765 L337 765 L336 735 L333 700 L333 670 L335.5 630 L336.5 600 L334 570 L332 550 Z" fill="#e9dfca"/>
<path d="M345.5 590 L349.5 590 L348.5 650 L345 710 L342 740 L340 740 L342 700 L344.5 650 Z" fill="#c9ad82" opacity="0.8"/>
<polygon points="329,530 341,527 343,562 335,574" fill="#dcd9d3" opacity="0.85"/>
<polygon points="333.3,668 318,719.5 323,722.5 335.5,690" fill="#efebe3" />
</g><g filter="url(#bl0)">
<path d="M336.7 570.8 L338.9 608.6 L348.9 572.1" fill="none" stroke="#f0201f" stroke-width="2"/>
<path d="M322.7 723 L332.6 669 L334.2 729.6" fill="none" stroke="#f0201f" stroke-width="2"/>
</g><g filter="url(#bl1)">
<polygon points="328.4,749 338,749 338,800 328.4,800" fill="#77736c" />
<polygon points="343,749 351.5,749 351.5,800 343,800" fill="#77736c" />
<polygon points="328.4,749 351.5,749 351.5,753 328.4,753" fill="#aaa69e" />
<polygon points="338,768 343,768 343,800 338,800" fill="#262320" />
<polygon points="303,755.5 308.7,755.5 308.7,800 303,800" fill="#24211e" />
<polygon points="308.7,770 328.4,770 328.4,800 308.7,800" fill="#55514c" />
<polygon points="351.5,783 366,783 366,789.5 351.5,789.5" fill="#c2beb6" />
<polygon points="364.4,753.9 404,753.9 404,781.7 364.4,781.7" fill="#262320" />
<polygon points="364.4,781.7 404,781.7 404,800 364.4,800" fill="#6d6963" />
</g></g>
<text x="81.3" y="826.6" font-size="16" fill="#3a3a3a" stroke="#3a3a3a" stroke-width="0.16" text-anchor="middle" textLength="29.4" lengthAdjust="spacingAndGlyphs" >N=0</text>
<text x="222.6" y="826.6" font-size="16" fill="#3a3a3a" stroke="#3a3a3a" stroke-width="0.16" text-anchor="middle" >N=300</text>
<text x="355.8" y="826.6" font-size="16" fill="#3a3a3a" stroke="#3a3a3a" stroke-width="0.16" text-anchor="middle" >N=21965</text>
<rect x="493.55" y="525.15" width="255.15000000000003" height="256.35" fill="none" stroke="#000" stroke-width="2.9"/>
<line x1="493.55" y1="781.5" x2="504.55" y2="781.5" stroke="#000" stroke-width="2.6" />
<line x1="493.55" y1="730.23" x2="504.55" y2="730.23" stroke="#000" stroke-width="2.6" />
<line x1="493.55" y1="678.96" x2="504.55" y2="678.96" stroke="#000" stroke-width="2.6" />
<line x1="493.55" y1="627.69" x2="504.55" y2="627.69" stroke="#000" stroke-width="2.6" />
<line x1="493.55" y1="576.4200000000001" x2="504.55" y2="576.4200000000001" stroke="#000" stroke-width="2.6" />
<line x1="493.55" y1="525.1500000000001" x2="504.55" y2="525.1500000000001" stroke="#000" stroke-width="2.6" />
<line x1="493.55" y1="755.865" x2="499.35" y2="755.865" stroke="#000" stroke-width="2.6" />
<line x1="493.55" y1="704.595" x2="499.35" y2="704.595" stroke="#000" stroke-width="2.6" />
<line x1="493.55" y1="653.325" x2="499.35" y2="653.325" stroke="#000" stroke-width="2.6" />
<line x1="493.55" y1="602.0550000000001" x2="499.35" y2="602.0550000000001" stroke="#000" stroke-width="2.6" />
<line x1="493.55" y1="550.785" x2="499.35" y2="550.785" stroke="#000" stroke-width="2.6" />
<line x1="513.0" y1="781.5" x2="513.0" y2="771.3" stroke="#000" stroke-width="2.6" />
<line x1="591.56" y1="781.5" x2="591.56" y2="771.3" stroke="#000" stroke-width="2.6" />
<line x1="670.12" y1="781.5" x2="670.12" y2="771.3" stroke="#000" stroke-width="2.6" />
<line x1="748.6800000000001" y1="781.5" x2="748.6800000000001" y2="771.3" stroke="#000" stroke-width="2.6" />
<line x1="552.28" y1="781.5" x2="552.28" y2="775.9" stroke="#000" stroke-width="2.6" />
<line x1="630.84" y1="781.5" x2="630.84" y2="775.9" stroke="#000" stroke-width="2.6" />
<line x1="709.4" y1="781.5" x2="709.4" y2="775.9" stroke="#000" stroke-width="2.6" />
<text transform="translate(490.6 789.0) scale(1.08 1)" font-size="18.8" fill="#000" font-weight="bold" text-anchor="end">0</text>
<text transform="translate(490.6 737.23) scale(1.08 1)" font-size="18.8" fill="#000" font-weight="bold" text-anchor="end">10</text>
<text transform="translate(490.6 685.96) scale(1.08 1)" font-size="18.8" fill="#000" font-weight="bold" text-anchor="end">20</text>
<text transform="translate(490.6 634.69) scale(1.08 1)" font-size="18.8" fill="#000" font-weight="bold" text-anchor="end">30</text>
<text transform="translate(490.6 583.4200000000001) scale(1.08 1)" font-size="18.8" fill="#000" font-weight="bold" text-anchor="end">40</text>
<text transform="translate(490.6 532.1500000000001) scale(1.08 1)" font-size="18.8" fill="#000" font-weight="bold" text-anchor="end">50</text>
<text transform="translate(513.0 804.6) scale(1.04 1)" font-size="18.8" fill="#000" font-weight="bold" text-anchor="middle">0</text>
<text transform="translate(591.56 804.6) scale(1.04 1)" font-size="18.8" fill="#000" font-weight="bold" text-anchor="middle">2</text>
<text transform="translate(670.12 804.6) scale(1.04 1)" font-size="18.8" fill="#000" font-weight="bold" text-anchor="middle">4</text>
<text transform="translate(748.6800000000001 804.6) scale(1.04 1)" font-size="18.8" fill="#000" font-weight="bold" text-anchor="middle">6</text>
<text x="543.9" y="834.9" font-size="19.4" fill="#000" font-weight="bold" textLength="153" lengthAdjust="spacingAndGlyphs" >Cycles N (<tspan font-weight="normal">×</tspan>10<tspan font-size="14.5" dy="-9">4</tspan><tspan dy="9">)</tspan></text>
<text x="457.4" y="653.5" font-size="21.5" fill="#000" font-weight="bold" text-anchor="middle" textLength="185" lengthAdjust="spacingAndGlyphs" transform="rotate(-90 457.4 653.5)" >Crack length (mm)</text>
<path d="M527.7 540.3 L532.6 545.4 L527.7 550.5 L522.8000000000001 545.4 Z" fill="#f58220"/>
<path d="M523.6 581.4 L528.5 586.5 L523.6 591.6 L518.7 586.5 Z" fill="#f58220"/>
<path d="M520.3 612.0 L525.1999999999999 617.1 L520.3 622.2 L515.4 617.1 Z" fill="#f58220"/>
<path d="M520.3 653.0 L525.1999999999999 658.1 L520.3 663.2 L515.4 658.1 Z" fill="#f58220"/>
<path d="M516.5 685.0 L521.4 690.1 L516.5 695.2 L511.6 690.1 Z" fill="#f58220"/>
<path d="M512.7 704.9 L517.6 710.0 L512.7 715.1 L507.80000000000007 710.0 Z" fill="#f58220"/>
<circle cx="512.7" cy="730.4" r="5.1" fill="#39b54a"/>
<circle cx="534.4" cy="689.8" r="5.1" fill="#39b54a"/>
<circle cx="555.8" cy="674.5" r="5.1" fill="#39b54a"/>
<circle cx="577.6" cy="674.5" r="5.1" fill="#39b54a"/>
<circle cx="598.8" cy="669.1" r="5.1" fill="#39b54a"/>
<circle cx="624.1" cy="653.1" r="5.1" fill="#39b54a"/>
<circle cx="642.3" cy="647.9" r="5.1" fill="#39b54a"/>
<circle cx="663.5" cy="642.7" r="5.1" fill="#39b54a"/>
<rect x="508.55" y="679.35" width="10.1" height="10.1" fill="#8c4a9e" />
<rect x="550.95" y="653.25" width="10.1" height="10.1" fill="#8c4a9e" />
<rect x="572.95" y="653.25" width="10.1" height="10.1" fill="#8c4a9e" />
<rect x="594.35" y="616.75" width="10.1" height="10.1" fill="#8c4a9e" />
<rect x="601.6500000000001" y="591.35" width="10.1" height="10.1" fill="#8c4a9e" />
<rect x="608.75" y="560.95" width="10.1" height="10.1" fill="#8c4a9e" />
<rect x="637.25" y="560.95" width="10.1" height="10.1" fill="#8c4a9e" />
<path d="M512.7 746.1 L517.8000000000001 756.1 L507.6 756.1 Z" fill="#ed1c24"/>
<path d="M556 730.9 L561.1 740.9 L550.9 740.9 Z" fill="#ed1c24"/>
<path d="M599.2 731.0 L604.3000000000001 741.0 L594.1 741.0 Z" fill="#ed1c24"/>
<path d="M642.8 731.0 L647.9 741.0 L637.6999999999999 741.0 Z" fill="#ed1c24"/>
<path d="M682.2 731.0 L687.3000000000001 741.0 L677.1 741.0 Z" fill="#ed1c24"/>
<polygon points="513.00,756.90 514.30,759.71 517.37,760.08 515.10,762.18 515.70,765.22 513.00,763.71 510.30,765.22 510.90,762.18 508.63,760.08 511.70,759.71" fill="#3953a4"/>
<polygon points="557.40,756.20 558.70,759.01 561.77,759.38 559.50,761.48 560.10,764.52 557.40,763.01 554.70,764.52 555.30,761.48 553.03,759.38 556.10,759.01" fill="#3953a4"/>
<polygon points="600.20,754.50 601.50,757.31 604.57,757.68 602.30,759.78 602.90,762.82 600.20,761.31 597.50,762.82 598.10,759.78 595.83,757.68 598.90,757.31" fill="#3953a4"/>
<polygon points="643.50,754.80 644.80,757.61 647.87,757.98 645.60,760.08 646.20,763.12 643.50,761.61 640.80,763.12 641.40,760.08 639.13,757.98 642.20,757.61" fill="#3953a4"/>
<polygon points="687.00,754.80 688.30,757.61 691.37,757.98 689.10,760.08 689.70,763.12 687.00,761.61 684.30,763.12 684.90,760.08 682.63,757.98 685.70,757.61" fill="#3953a4"/>
<text x="537.6" y="549.8" font-size="18.3" fill="#f58220" stroke="#f58220" stroke-width="0.16" ><tspan font-family="Liberation Serif, serif">ε</tspan>=0.375</text>
<text x="659.9" y="569.2" font-size="18.3" fill="#8c4a9e" stroke="#8c4a9e" stroke-width="0.16" ><tspan font-family="Liberation Serif, serif">ε</tspan>=0.25</text>
<text x="674.0" y="644.6" font-size="18.3" fill="#39b54a" stroke="#39b54a" stroke-width="0.16" ><tspan font-family="Liberation Serif, serif">ε</tspan>=0.225</text>
<text x="683.6" y="728.4" font-size="18.3" fill="#ef4a4a" stroke="#ef4a4a" stroke-width="0.16" ><tspan font-family="Liberation Serif, serif">ε</tspan>=0.175</text>
<text x="683.6" y="753.6" font-size="18.3" fill="#3953a4" stroke="#3953a4" stroke-width="0.16" ><tspan font-family="Liberation Serif, serif">ε</tspan>=0.125</text>
<rect x="845.1" y="525.2" width="255.19999999999993" height="256.5999999999999" fill="none" stroke="#000" stroke-width="2.9"/>
<line x1="845.1" y1="756.0629044708596" x2="850.5" y2="756.0629044708596" stroke="#000" stroke-width="2.2" />
<line x1="845.1" y1="741.0018190838273" x2="850.5" y2="741.0018190838273" stroke="#000" stroke-width="2.2" />
<line x1="845.1" y1="730.3158089417194" x2="850.5" y2="730.3158089417194" stroke="#000" stroke-width="2.2" />
<line x1="845.1" y1="722.0270955291403" x2="850.5" y2="722.0270955291403" stroke="#000" stroke-width="2.2" />
<line x1="845.1" y1="715.254723554687" x2="850.5" y2="715.254723554687" stroke="#000" stroke-width="2.2" />
<line x1="845.1" y1="709.5287646375806" x2="850.5" y2="709.5287646375806" stroke="#000" stroke-width="2.2" />
<line x1="845.1" y1="704.5687134125791" x2="850.5" y2="704.5687134125791" stroke="#000" stroke-width="2.2" />
<line x1="845.1" y1="700.1936381676545" x2="850.5" y2="700.1936381676545" stroke="#000" stroke-width="2.2" />
<line x1="845.1" y1="696.28" x2="855.9" y2="696.28" stroke="#000" stroke-width="2.4" />
<line x1="845.1" y1="670.5329044708596" x2="850.5" y2="670.5329044708596" stroke="#000" stroke-width="2.2" />
<line x1="845.1" y1="655.4718190838273" x2="850.5" y2="655.4718190838273" stroke="#000" stroke-width="2.2" />
<line x1="845.1" y1="644.7858089417193" x2="850.5" y2="644.7858089417193" stroke="#000" stroke-width="2.2" />
<line x1="845.1" y1="636.4970955291403" x2="850.5" y2="636.4970955291403" stroke="#000" stroke-width="2.2" />
<line x1="845.1" y1="629.724723554687" x2="850.5" y2="629.724723554687" stroke="#000" stroke-width="2.2" />
<line x1="845.1" y1="623.9987646375806" x2="850.5" y2="623.9987646375806" stroke="#000" stroke-width="2.2" />
<line x1="845.1" y1="619.0387134125791" x2="850.5" y2="619.0387134125791" stroke="#000" stroke-width="2.2" />
<line x1="845.1" y1="614.6636381676545" x2="850.5" y2="614.6636381676545" stroke="#000" stroke-width="2.2" />
<line x1="845.1" y1="610.75" x2="855.9" y2="610.75" stroke="#000" stroke-width="2.4" />
<line x1="845.1" y1="585.0029044708597" x2="850.5" y2="585.0029044708597" stroke="#000" stroke-width="2.2" />
<line x1="845.1" y1="569.9418190838272" x2="850.5" y2="569.9418190838272" stroke="#000" stroke-width="2.2" />
<line x1="845.1" y1="559.2558089417194" x2="850.5" y2="559.2558089417194" stroke="#000" stroke-width="2.2" />
<line x1="845.1" y1="550.9670955291404" x2="850.5" y2="550.9670955291404" stroke="#000" stroke-width="2.2" />
<line x1="845.1" y1="544.194723554687" x2="850.5" y2="544.194723554687" stroke="#000" stroke-width="2.2" />
<line x1="845.1" y1="538.4687646375806" x2="850.5" y2="538.4687646375806" stroke="#000" stroke-width="2.2" />
<line x1="845.1" y1="533.508713412579" x2="850.5" y2="533.508713412579" stroke="#000" stroke-width="2.2" />
<line x1="845.1" y1="529.1336381676546" x2="850.5" y2="529.1336381676546" stroke="#000" stroke-width="2.2" />
<line x1="930.1666666666666" y1="781.8" x2="930.1666666666666" y2="771.5999999999999" stroke="#000" stroke-width="2.6" />
<line x1="1015.2333333333333" y1="781.8" x2="1015.2333333333333" y2="771.5999999999999" stroke="#000" stroke-width="2.6" />
<line x1="887.6333333333333" y1="781.8" x2="887.6333333333333" y2="776.1999999999999" stroke="#000" stroke-width="2.6" />
<line x1="972.7" y1="781.8" x2="972.7" y2="776.1999999999999" stroke="#000" stroke-width="2.6" />
<line x1="1057.7666666666667" y1="781.8" x2="1057.7666666666667" y2="776.1999999999999" stroke="#000" stroke-width="2.6" />
<text transform="translate(841.4 532.22) scale(1.08 1)" font-size="18.8" fill="#000" font-weight="bold" text-anchor="end">10</text>
<text transform="translate(841.4 617.75) scale(1.08 1)" font-size="18.8" fill="#000" font-weight="bold" text-anchor="end">1</text>
<text transform="translate(841.4 703.28) scale(1.08 1)" font-size="18.8" fill="#000" font-weight="bold" text-anchor="end">0.1</text>
<text transform="translate(841.4 788.9) scale(1.08 1)" font-size="18.8" fill="#000" font-weight="bold" text-anchor="end">0.01</text>
<text transform="translate(845.1 804.8) scale(1.04 1)" font-size="18.8" fill="#000" font-weight="bold" text-anchor="middle">0</text>
<text transform="translate(930.1666666666666 804.8) scale(1.04 1)" font-size="18.8" fill="#000" font-weight="bold" text-anchor="middle">50</text>
<text transform="translate(1015.2333333333333 804.8) scale(1.04 1)" font-size="18.8" fill="#000" font-weight="bold" text-anchor="middle">100</text>
<text transform="translate(1100.8999999999999 804.8) scale(1.04 1)" font-size="18.8" fill="#000" font-weight="bold" text-anchor="middle">150</text>
<text x="932.0" y="837.4" font-size="19.4" fill="#000" font-weight="bold" textLength="81" lengthAdjust="spacingAndGlyphs" >G (Jm<tspan font-size="14" dy="-8.5">-2</tspan><tspan dy="8.5">)</tspan></text>
<text x="795.3" y="653" font-size="21.5" fill="#000" font-weight="bold" text-anchor="middle" textLength="170" lengthAdjust="spacingAndGlyphs" transform="rotate(-90 795.3 653)" >dc/dN (<tspan font-family="Liberation Serif, serif" font-weight="normal">μ</tspan>m/cycle)</text>
<path d="M887.6 744.0 L887.6 741.2 L887.7 738.7 L887.8 736.3 L887.9 734.1 L888.0 731.9 L888.1 729.9 L888.2 728.1 L888.2 726.3 L888.3 724.5 L888.4 722.9 L888.5 721.3 L888.6 719.8 L888.7 718.4 L888.7 717.0 L888.8 715.6 L888.9 714.3 L889.0 713.1 L889.1 711.8 L889.2 710.7 L889.3 709.5 L889.3 708.4 L889.4 707.3 L889.5 706.3 L889.6 705.3 L889.7 704.3 L889.8 703.3 L889.9 702.4 L889.9 701.5 L890.0 700.6 L890.1 699.7 L890.2 698.9 L890.3 698.0 L890.4 697.2 L890.4 696.4 L890.5 695.6 L890.6 694.9 L890.7 694.1 L890.8 693.4 L890.9 692.7 L891.0 692.0 L891.0 691.3 L891.5 688.0 L891.9 685.0 L892.3 682.2 L892.7 679.6 L893.2 677.2 L893.6 674.9 L894.0 672.7 L894.4 670.7 L894.9 668.8 L895.3 667.0 L895.7 665.2 L896.1 663.6 L896.6 662.0 L897.0 660.4 L897.4 659.0 L897.8 657.6 L898.3 656.2 L898.7 654.9 L899.1 653.6 L899.6 652.4 L900.0 651.2 L900.4 650.1 L900.8 648.9 L901.3 647.9 L901.7 646.8 L902.1 645.8 L902.5 644.8 L903.0 643.8 L903.4 642.9 L903.8 642.0 L904.2 641.1 L904.7 640.2 L905.1 639.3 L905.5 638.5 L905.9 637.7 L906.4 636.9 L906.8 636.1 L907.2 635.3 L907.6 634.6 L908.1 633.8 L908.5 633.1 L908.9 632.4 L909.3 631.7 L909.8 631.0 L910.2 630.3 L910.6 629.7 L911.0 629.0 L911.5 628.4 L911.9 627.8 L912.3 627.1 L912.7 626.5 L913.2 625.9 L916.6 621.5 L920.0 617.5 L923.4 613.9 L926.8 610.6 L930.2 607.6 L933.6 604.9 L937.0 602.3 L940.4 599.8 L943.8 597.6 L947.2 595.4 L950.6 593.4 L954.0 591.5 L957.4 589.7 L960.8 587.9 L964.2 586.3 L967.6 584.7 L971.0 583.1 L974.4 581.7 L977.8 580.3 L981.2 578.9 L984.6 577.6 L988.0 576.3 L991.4 575.1 L994.8 573.9 L998.2 572.8 L1001.6 571.7 L1005.0 570.6 L1008.4 569.5 L1011.8 568.5 L1015.2 567.5 L1018.6 566.5 L1022.0 565.6 L1025.4 564.7 L1028.9 563.8 L1032.3 562.9 L1035.7 562.1 L1039.1 561.2 L1042.5 560.4 L1045.9 559.6 L1049.3 558.8 L1052.7 558.0 L1056.1 557.3 L1059.5 556.6 L1062.9 555.8 L1066.3 555.1 L1069.7 554.4 L1071.7 554.0" fill="none" stroke="#ee3a43" stroke-width="3.4" stroke-linejoin="round"/>
<circle cx="917.1" cy="601.3" r="5.2" fill="#3953a4"/>
<circle cx="924.6" cy="610.5" r="5.2" fill="#3953a4"/>
<circle cx="955" cy="639.4" r="5.2" fill="#3953a4"/>
<circle cx="901.8" cy="648" r="5.2" fill="#3953a4"/>
<circle cx="912.2" cy="658.8" r="5.2" fill="#3953a4"/>
<circle cx="908.7" cy="700.4" r="5.2" fill="#3953a4"/>
<circle cx="862.3" cy="745" r="5.2" fill="#3953a4"/>
<circle cx="880" cy="760.6" r="5.2" fill="#3953a4"/>
<circle cx="1028.5" cy="555.8" r="5.2" fill="#3953a4"/>
<circle cx="1072.6" cy="542.6" r="5.2" fill="#3953a4"/>
<circle cx="1068.8" cy="573.8" r="5.2" fill="#3953a4"/>
</svg>
</body></html>
